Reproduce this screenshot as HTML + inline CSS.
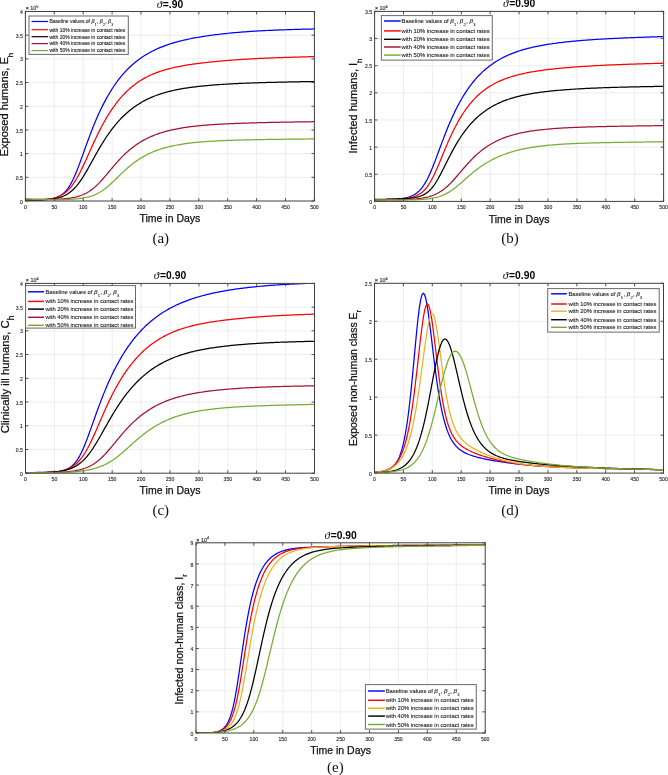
<!DOCTYPE html><html><head><meta charset="utf-8"><style>html,body{margin:0;padding:0;background:#fff;overflow:hidden}svg{display:block;will-change:transform}</style></head><body>
<svg width="668" height="775" viewBox="0 0 668 775">
<rect width="668" height="775" fill="#fff"/>
<g stroke="#e8e8e8" stroke-width="0.8"><line x1="54.30" y1="11.50" x2="54.30" y2="201.00"/><line x1="83.20" y1="11.50" x2="83.20" y2="201.00"/><line x1="112.10" y1="11.50" x2="112.10" y2="201.00"/><line x1="141.00" y1="11.50" x2="141.00" y2="201.00"/><line x1="169.90" y1="11.50" x2="169.90" y2="201.00"/><line x1="198.80" y1="11.50" x2="198.80" y2="201.00"/><line x1="227.70" y1="11.50" x2="227.70" y2="201.00"/><line x1="256.60" y1="11.50" x2="256.60" y2="201.00"/><line x1="285.50" y1="11.50" x2="285.50" y2="201.00"/><line x1="25.40" y1="177.31" x2="314.40" y2="177.31"/><line x1="25.40" y1="153.62" x2="314.40" y2="153.62"/><line x1="25.40" y1="129.94" x2="314.40" y2="129.94"/><line x1="25.40" y1="106.25" x2="314.40" y2="106.25"/><line x1="25.40" y1="82.56" x2="314.40" y2="82.56"/><line x1="25.40" y1="58.88" x2="314.40" y2="58.88"/><line x1="25.40" y1="35.19" x2="314.40" y2="35.19"/></g>
<clipPath id="ca"><rect x="25.40" y="11.50" width="289.00" height="189.50"/></clipPath>
<g clip-path="url(#ca)" fill="none" stroke-width="1.25" stroke-linejoin="round">
<path stroke="#0000ff" d="M25.40,199.51 L26.72,199.54 L28.04,199.56 L29.36,199.59 L30.68,199.61 L32.00,199.63 L33.32,199.64 L34.64,199.65 L35.96,199.66 L37.28,199.66 L38.60,199.65 L39.92,199.63 L41.24,199.60 L42.56,199.56 L43.87,199.51 L45.19,199.44 L46.51,199.35 L47.83,199.23 L49.15,199.09 L50.47,198.91 L51.79,198.69 L53.11,198.42 L54.43,198.09 L55.75,197.70 L57.07,197.23 L58.39,196.67 L59.71,196.01 L61.03,195.22 L62.35,194.29 L63.67,193.20 L64.99,191.94 L66.31,190.48 L67.63,188.81 L68.95,186.91 L70.27,184.78 L71.59,182.41 L72.91,179.81 L74.23,176.99 L75.55,173.96 L76.87,170.75 L78.19,167.38 L79.51,163.89 L80.82,160.30 L82.14,156.66 L83.46,152.98 L84.78,149.29 L86.10,145.62 L87.42,141.99 L88.74,138.41 L90.06,134.89 L91.38,131.44 L92.70,128.08 L94.02,124.80 L95.34,121.61 L96.66,118.51 L97.98,115.51 L99.30,112.60 L100.62,109.77 L101.94,107.04 L103.26,104.40 L104.58,101.85 L105.90,99.38 L107.22,97.00 L108.54,94.70 L109.86,92.48 L111.18,90.33 L112.50,88.26 L113.82,86.27 L115.14,84.35 L116.45,82.49 L117.77,80.70 L119.09,78.98 L120.41,77.31 L121.73,75.71 L123.05,74.17 L124.37,72.68 L125.69,71.24 L127.01,69.86 L128.33,68.53 L129.65,67.24 L130.97,66.00 L132.29,64.81 L133.61,63.66 L134.93,62.55 L136.25,61.49 L137.57,60.46 L138.89,59.46 L140.21,58.51 L141.53,57.59 L142.85,56.70 L144.17,55.84 L145.49,55.01 L146.81,54.22 L148.13,53.45 L149.45,52.71 L150.77,51.99 L152.08,51.30 L153.40,50.63 L154.72,49.99 L156.04,49.37 L157.36,48.77 L158.68,48.19 L160.00,47.63 L161.32,47.09 L162.64,46.57 L163.96,46.07 L165.28,45.58 L166.60,45.11 L167.92,44.65 L169.24,44.21 L170.56,43.78 L171.88,43.37 L173.20,42.97 L174.52,42.58 L175.84,42.20 L177.16,41.84 L178.48,41.49 L179.80,41.14 L181.12,40.81 L182.44,40.49 L183.76,40.18 L185.08,39.87 L186.40,39.58 L187.72,39.29 L189.03,39.01 L190.35,38.74 L191.67,38.48 L192.99,38.22 L194.31,37.97 L195.63,37.73 L196.95,37.49 L198.27,37.26 L199.59,37.04 L200.91,36.82 L202.23,36.61 L203.55,36.40 L204.87,36.19 L206.19,36.00 L207.51,35.80 L208.83,35.61 L210.15,35.43 L211.47,35.25 L212.79,35.07 L214.11,34.90 L215.43,34.73 L216.75,34.57 L218.07,34.41 L219.39,34.25 L220.71,34.10 L222.03,33.95 L223.35,33.80 L224.66,33.66 L225.98,33.52 L227.30,33.38 L228.62,33.25 L229.94,33.12 L231.26,32.99 L232.58,32.86 L233.90,32.74 L235.22,32.62 L236.54,32.50 L237.86,32.39 L239.18,32.28 L240.50,32.17 L241.82,32.07 L243.14,31.96 L244.46,31.86 L245.78,31.77 L247.10,31.67 L248.42,31.58 L249.74,31.49 L251.06,31.40 L252.38,31.31 L253.70,31.23 L255.02,31.15 L256.34,31.07 L257.66,30.99 L258.98,30.91 L260.29,30.84 L261.61,30.77 L262.93,30.70 L264.25,30.63 L265.57,30.57 L266.89,30.50 L268.21,30.44 L269.53,30.38 L270.85,30.32 L272.17,30.26 L273.49,30.20 L274.81,30.15 L276.13,30.09 L277.45,30.04 L278.77,29.99 L280.09,29.94 L281.41,29.89 L282.73,29.85 L284.05,29.80 L285.37,29.75 L286.69,29.71 L288.01,29.67 L289.33,29.62 L290.65,29.58 L291.97,29.54 L293.29,29.50 L294.61,29.46 L295.93,29.42 L297.24,29.39 L298.56,29.35 L299.88,29.31 L301.20,29.28 L302.52,29.24 L303.84,29.21 L305.16,29.18 L306.48,29.14 L307.80,29.11 L309.12,29.08 L310.44,29.05 L311.76,29.02 L313.08,28.99 L314.40,28.95"/>
<path stroke="#ff0000" d="M25.40,199.95 L26.72,199.97 L28.04,199.99 L29.36,200.01 L30.68,200.02 L32.00,200.03 L33.32,200.03 L34.64,200.02 L35.96,200.00 L37.28,199.98 L38.60,199.94 L39.92,199.89 L41.24,199.83 L42.56,199.76 L43.87,199.66 L45.19,199.55 L46.51,199.42 L47.83,199.25 L49.15,199.07 L50.47,198.84 L51.79,198.59 L53.11,198.29 L54.43,197.94 L55.75,197.55 L57.07,197.09 L58.39,196.58 L59.71,195.99 L61.03,195.32 L62.35,194.56 L63.67,193.71 L64.99,192.75 L66.31,191.68 L67.63,190.49 L68.95,189.17 L70.27,187.71 L71.59,186.10 L72.91,184.35 L74.23,182.45 L75.55,180.40 L76.87,178.20 L78.19,175.87 L79.51,173.41 L80.82,170.83 L82.14,168.15 L83.46,165.38 L84.78,162.54 L86.10,159.65 L87.42,156.73 L88.74,153.79 L90.06,150.84 L91.38,147.90 L92.70,144.99 L94.02,142.12 L95.34,139.29 L96.66,136.51 L97.98,133.79 L99.30,131.13 L100.62,128.54 L101.94,126.02 L103.26,123.57 L104.58,121.19 L105.90,118.88 L107.22,116.65 L108.54,114.49 L109.86,112.41 L111.18,110.39 L112.50,108.44 L113.82,106.56 L115.14,104.75 L116.45,103.00 L117.77,101.32 L119.09,99.69 L120.41,98.13 L121.73,96.63 L123.05,95.18 L124.37,93.78 L125.69,92.44 L127.01,91.15 L128.33,89.91 L129.65,88.72 L130.97,87.57 L132.29,86.47 L133.61,85.42 L134.93,84.40 L136.25,83.43 L137.57,82.50 L138.89,81.60 L140.21,80.74 L141.53,79.92 L142.85,79.13 L144.17,78.38 L145.49,77.65 L146.81,76.96 L148.13,76.30 L149.45,75.66 L150.77,75.05 L152.08,74.46 L153.40,73.90 L154.72,73.37 L156.04,72.85 L157.36,72.36 L158.68,71.88 L160.00,71.43 L161.32,70.99 L162.64,70.57 L163.96,70.17 L165.28,69.78 L166.60,69.41 L167.92,69.05 L169.24,68.70 L170.56,68.37 L171.88,68.05 L173.20,67.74 L174.52,67.44 L175.84,67.15 L177.16,66.87 L178.48,66.61 L179.80,66.35 L181.12,66.09 L182.44,65.85 L183.76,65.62 L185.08,65.39 L186.40,65.17 L187.72,64.95 L189.03,64.74 L190.35,64.54 L191.67,64.35 L192.99,64.15 L194.31,63.97 L195.63,63.79 L196.95,63.61 L198.27,63.44 L199.59,63.27 L200.91,63.11 L202.23,62.95 L203.55,62.80 L204.87,62.64 L206.19,62.50 L207.51,62.35 L208.83,62.21 L210.15,62.07 L211.47,61.93 L212.79,61.80 L214.11,61.67 L215.43,61.54 L216.75,61.42 L218.07,61.29 L219.39,61.17 L220.71,61.06 L222.03,60.94 L223.35,60.83 L224.66,60.72 L225.98,60.61 L227.30,60.50 L228.62,60.40 L229.94,60.29 L231.26,60.19 L232.58,60.09 L233.90,60.00 L235.22,59.90 L236.54,59.81 L237.86,59.72 L239.18,59.63 L240.50,59.54 L241.82,59.45 L243.14,59.37 L244.46,59.29 L245.78,59.21 L247.10,59.13 L248.42,59.05 L249.74,58.97 L251.06,58.90 L252.38,58.83 L253.70,58.76 L255.02,58.69 L256.34,58.62 L257.66,58.55 L258.98,58.49 L260.29,58.42 L261.61,58.36 L262.93,58.30 L264.25,58.24 L265.57,58.18 L266.89,58.12 L268.21,58.07 L269.53,58.01 L270.85,57.96 L272.17,57.90 L273.49,57.85 L274.81,57.80 L276.13,57.75 L277.45,57.70 L278.77,57.66 L280.09,57.61 L281.41,57.56 L282.73,57.52 L284.05,57.47 L285.37,57.43 L286.69,57.38 L288.01,57.34 L289.33,57.30 L290.65,57.26 L291.97,57.22 L293.29,57.18 L294.61,57.14 L295.93,57.10 L297.24,57.06 L298.56,57.02 L299.88,56.99 L301.20,56.95 L302.52,56.91 L303.84,56.88 L305.16,56.84 L306.48,56.81 L307.80,56.77 L309.12,56.74 L310.44,56.70 L311.76,56.67 L313.08,56.63 L314.40,56.60"/>
<path stroke="#000000" d="M25.40,199.71 L26.72,199.74 L28.04,199.77 L29.36,199.80 L30.68,199.82 L32.00,199.84 L33.32,199.86 L34.64,199.87 L35.96,199.88 L37.28,199.88 L38.60,199.87 L39.92,199.85 L41.24,199.83 L42.56,199.79 L43.87,199.74 L45.19,199.68 L46.51,199.61 L47.83,199.51 L49.15,199.40 L50.47,199.27 L51.79,199.11 L53.11,198.93 L54.43,198.72 L55.75,198.47 L57.07,198.18 L58.39,197.85 L59.71,197.48 L61.03,197.05 L62.35,196.56 L63.67,196.01 L64.99,195.39 L66.31,194.70 L67.63,193.92 L68.95,193.04 L70.27,192.08 L71.59,191.00 L72.91,189.82 L74.23,188.53 L75.55,187.11 L76.87,185.59 L78.19,183.94 L79.51,182.18 L80.82,180.30 L82.14,178.33 L83.46,176.26 L84.78,174.10 L86.10,171.87 L87.42,169.59 L88.74,167.25 L90.06,164.89 L91.38,162.50 L92.70,160.11 L94.02,157.72 L95.34,155.35 L96.66,153.00 L97.98,150.68 L99.30,148.40 L100.62,146.16 L101.94,143.98 L103.26,141.84 L104.58,139.76 L105.90,137.73 L107.22,135.76 L108.54,133.85 L109.86,132.00 L111.18,130.20 L112.50,128.46 L113.82,126.78 L115.14,125.15 L116.45,123.58 L117.77,122.06 L119.09,120.59 L120.41,119.17 L121.73,117.81 L123.05,116.49 L124.37,115.21 L125.69,113.98 L127.01,112.80 L128.33,111.66 L129.65,110.56 L130.97,109.50 L132.29,108.48 L133.61,107.49 L134.93,106.55 L136.25,105.64 L137.57,104.76 L138.89,103.91 L140.21,103.10 L141.53,102.32 L142.85,101.57 L144.17,100.85 L145.49,100.16 L146.81,99.49 L148.13,98.85 L149.45,98.24 L150.77,97.64 L152.08,97.08 L153.40,96.53 L154.72,96.01 L156.04,95.50 L157.36,95.02 L158.68,94.56 L160.00,94.11 L161.32,93.68 L162.64,93.27 L163.96,92.87 L165.28,92.49 L166.60,92.12 L167.92,91.77 L169.24,91.43 L170.56,91.11 L171.88,90.79 L173.20,90.49 L174.52,90.20 L175.84,89.92 L177.16,89.65 L178.48,89.39 L179.80,89.14 L181.12,88.90 L182.44,88.67 L183.76,88.45 L185.08,88.23 L186.40,88.03 L187.72,87.83 L189.03,87.63 L190.35,87.45 L191.67,87.27 L192.99,87.09 L194.31,86.93 L195.63,86.76 L196.95,86.61 L198.27,86.46 L199.59,86.31 L200.91,86.17 L202.23,86.03 L203.55,85.90 L204.87,85.77 L206.19,85.65 L207.51,85.53 L208.83,85.41 L210.15,85.30 L211.47,85.19 L212.79,85.08 L214.11,84.98 L215.43,84.88 L216.75,84.78 L218.07,84.68 L219.39,84.59 L220.71,84.50 L222.03,84.42 L223.35,84.33 L224.66,84.25 L225.98,84.17 L227.30,84.09 L228.62,84.02 L229.94,83.94 L231.26,83.87 L232.58,83.80 L233.90,83.73 L235.22,83.67 L236.54,83.60 L237.86,83.54 L239.18,83.48 L240.50,83.42 L241.82,83.36 L243.14,83.31 L244.46,83.25 L245.78,83.20 L247.10,83.15 L248.42,83.09 L249.74,83.04 L251.06,83.00 L252.38,82.95 L253.70,82.90 L255.02,82.86 L256.34,82.81 L257.66,82.77 L258.98,82.73 L260.29,82.69 L261.61,82.65 L262.93,82.61 L264.25,82.57 L265.57,82.53 L266.89,82.49 L268.21,82.46 L269.53,82.42 L270.85,82.39 L272.17,82.35 L273.49,82.32 L274.81,82.29 L276.13,82.26 L277.45,82.22 L278.77,82.19 L280.09,82.16 L281.41,82.13 L282.73,82.10 L284.05,82.08 L285.37,82.05 L286.69,82.02 L288.01,81.99 L289.33,81.97 L290.65,81.94 L291.97,81.91 L293.29,81.89 L294.61,81.86 L295.93,81.84 L297.24,81.81 L298.56,81.79 L299.88,81.76 L301.20,81.74 L302.52,81.72 L303.84,81.69 L305.16,81.67 L306.48,81.65 L307.80,81.63 L309.12,81.60 L310.44,81.58 L311.76,81.56 L313.08,81.54 L314.40,81.52"/>
<path stroke="#a2142f" d="M25.40,199.15 L26.72,199.18 L28.04,199.20 L29.36,199.23 L30.68,199.25 L32.00,199.27 L33.32,199.30 L34.64,199.32 L35.96,199.34 L37.28,199.35 L38.60,199.37 L39.92,199.38 L41.24,199.39 L42.56,199.40 L43.87,199.41 L45.19,199.41 L46.51,199.41 L47.83,199.40 L49.15,199.40 L50.47,199.38 L51.79,199.36 L53.11,199.34 L54.43,199.31 L55.75,199.27 L57.07,199.22 L58.39,199.16 L59.71,199.10 L61.03,199.02 L62.35,198.94 L63.67,198.84 L64.99,198.72 L66.31,198.59 L67.63,198.44 L68.95,198.28 L70.27,198.09 L71.59,197.88 L72.91,197.64 L74.23,197.37 L75.55,197.08 L76.87,196.74 L78.19,196.38 L79.51,195.97 L80.82,195.51 L82.14,195.01 L83.46,194.46 L84.78,193.86 L86.10,193.19 L87.42,192.46 L88.74,191.67 L90.06,190.81 L91.38,189.88 L92.70,188.87 L94.02,187.80 L95.34,186.65 L96.66,185.44 L97.98,184.16 L99.30,182.82 L100.62,181.42 L101.94,179.97 L103.26,178.48 L104.58,176.95 L105.90,175.40 L107.22,173.82 L108.54,172.24 L109.86,170.65 L111.18,169.06 L112.50,167.49 L113.82,165.93 L115.14,164.39 L116.45,162.89 L117.77,161.41 L119.09,159.96 L120.41,158.56 L121.73,157.19 L123.05,155.86 L124.37,154.57 L125.69,153.32 L127.01,152.11 L128.33,150.94 L129.65,149.82 L130.97,148.73 L132.29,147.69 L133.61,146.68 L134.93,145.71 L136.25,144.78 L137.57,143.89 L138.89,143.03 L140.21,142.20 L141.53,141.41 L142.85,140.64 L144.17,139.91 L145.49,139.21 L146.81,138.54 L148.13,137.89 L149.45,137.27 L150.77,136.68 L152.08,136.11 L153.40,135.56 L154.72,135.04 L156.04,134.53 L157.36,134.05 L158.68,133.59 L160.00,133.15 L161.32,132.72 L162.64,132.31 L163.96,131.92 L165.28,131.55 L166.60,131.19 L167.92,130.85 L169.24,130.52 L170.56,130.20 L171.88,129.90 L173.20,129.61 L174.52,129.33 L175.84,129.06 L177.16,128.80 L178.48,128.56 L179.80,128.32 L181.12,128.09 L182.44,127.88 L183.76,127.67 L185.08,127.47 L186.40,127.27 L187.72,127.09 L189.03,126.91 L190.35,126.74 L191.67,126.58 L192.99,126.42 L194.31,126.27 L195.63,126.12 L196.95,125.98 L198.27,125.85 L199.59,125.72 L200.91,125.59 L202.23,125.47 L203.55,125.36 L204.87,125.24 L206.19,125.14 L207.51,125.03 L208.83,124.93 L210.15,124.83 L211.47,124.74 L212.79,124.65 L214.11,124.56 L215.43,124.48 L216.75,124.40 L218.07,124.32 L219.39,124.24 L220.71,124.16 L222.03,124.09 L223.35,124.02 L224.66,123.95 L225.98,123.89 L227.30,123.82 L228.62,123.76 L229.94,123.70 L231.26,123.64 L232.58,123.59 L233.90,123.53 L235.22,123.48 L236.54,123.42 L237.86,123.37 L239.18,123.32 L240.50,123.27 L241.82,123.23 L243.14,123.18 L244.46,123.13 L245.78,123.09 L247.10,123.05 L248.42,123.01 L249.74,122.96 L251.06,122.92 L252.38,122.89 L253.70,122.85 L255.02,122.81 L256.34,122.77 L257.66,122.74 L258.98,122.70 L260.29,122.67 L261.61,122.64 L262.93,122.61 L264.25,122.57 L265.57,122.54 L266.89,122.51 L268.21,122.48 L269.53,122.46 L270.85,122.43 L272.17,122.40 L273.49,122.37 L274.81,122.35 L276.13,122.32 L277.45,122.29 L278.77,122.27 L280.09,122.24 L281.41,122.22 L282.73,122.19 L284.05,122.17 L285.37,122.15 L286.69,122.12 L288.01,122.10 L289.33,122.08 L290.65,122.06 L291.97,122.04 L293.29,122.02 L294.61,121.99 L295.93,121.97 L297.24,121.95 L298.56,121.93 L299.88,121.91 L301.20,121.89 L302.52,121.87 L303.84,121.85 L305.16,121.83 L306.48,121.82 L307.80,121.80 L309.12,121.78 L310.44,121.76 L311.76,121.74 L313.08,121.72 L314.40,121.71"/>
<path stroke="#77ac30" d="M25.40,199.08 L26.72,199.11 L28.04,199.14 L29.36,199.18 L30.68,199.21 L32.00,199.24 L33.32,199.27 L34.64,199.31 L35.96,199.34 L37.28,199.37 L38.60,199.39 L39.92,199.42 L41.24,199.45 L42.56,199.47 L43.87,199.50 L45.19,199.52 L46.51,199.54 L47.83,199.56 L49.15,199.57 L50.47,199.59 L51.79,199.60 L53.11,199.61 L54.43,199.62 L55.75,199.62 L57.07,199.62 L58.39,199.61 L59.71,199.60 L61.03,199.59 L62.35,199.57 L63.67,199.55 L64.99,199.52 L66.31,199.48 L67.63,199.44 L68.95,199.38 L70.27,199.32 L71.59,199.25 L72.91,199.17 L74.23,199.07 L75.55,198.97 L76.87,198.84 L78.19,198.71 L79.51,198.55 L80.82,198.38 L82.14,198.18 L83.46,197.96 L84.78,197.71 L86.10,197.44 L87.42,197.14 L88.74,196.80 L90.06,196.42 L91.38,196.01 L92.70,195.55 L94.02,195.05 L95.34,194.50 L96.66,193.90 L97.98,193.24 L99.30,192.52 L100.62,191.75 L101.94,190.92 L103.26,190.03 L104.58,189.08 L105.90,188.08 L107.22,187.02 L108.54,185.91 L109.86,184.76 L111.18,183.56 L112.50,182.33 L113.82,181.08 L115.14,179.80 L116.45,178.51 L117.77,177.22 L119.09,175.92 L120.41,174.64 L121.73,173.36 L123.05,172.10 L124.37,170.87 L125.69,169.66 L127.01,168.47 L128.33,167.32 L129.65,166.20 L130.97,165.11 L132.29,164.06 L133.61,163.05 L134.93,162.06 L136.25,161.12 L137.57,160.20 L138.89,159.33 L140.21,158.48 L141.53,157.67 L142.85,156.90 L144.17,156.15 L145.49,155.43 L146.81,154.74 L148.13,154.09 L149.45,153.46 L150.77,152.85 L152.08,152.27 L153.40,151.72 L154.72,151.19 L156.04,150.68 L157.36,150.19 L158.68,149.73 L160.00,149.28 L161.32,148.86 L162.64,148.45 L163.96,148.06 L165.28,147.69 L166.60,147.33 L167.92,146.99 L169.24,146.67 L170.56,146.35 L171.88,146.06 L173.20,145.77 L174.52,145.50 L175.84,145.24 L177.16,144.99 L178.48,144.76 L179.80,144.53 L181.12,144.31 L182.44,144.10 L183.76,143.90 L185.08,143.72 L186.40,143.53 L187.72,143.36 L189.03,143.19 L190.35,143.03 L191.67,142.88 L192.99,142.74 L194.31,142.60 L195.63,142.46 L196.95,142.34 L198.27,142.21 L199.59,142.10 L200.91,141.98 L202.23,141.88 L203.55,141.77 L204.87,141.67 L206.19,141.58 L207.51,141.49 L208.83,141.40 L210.15,141.31 L211.47,141.23 L212.79,141.15 L214.11,141.08 L215.43,141.01 L216.75,140.94 L218.07,140.87 L219.39,140.81 L220.71,140.74 L222.03,140.68 L223.35,140.63 L224.66,140.57 L225.98,140.52 L227.30,140.46 L228.62,140.41 L229.94,140.37 L231.26,140.32 L232.58,140.27 L233.90,140.23 L235.22,140.19 L236.54,140.15 L237.86,140.11 L239.18,140.07 L240.50,140.03 L241.82,140.00 L243.14,139.96 L244.46,139.93 L245.78,139.90 L247.10,139.86 L248.42,139.83 L249.74,139.80 L251.06,139.77 L252.38,139.75 L253.70,139.72 L255.02,139.69 L256.34,139.66 L257.66,139.64 L258.98,139.61 L260.29,139.59 L261.61,139.57 L262.93,139.54 L264.25,139.52 L265.57,139.50 L266.89,139.48 L268.21,139.46 L269.53,139.44 L270.85,139.42 L272.17,139.40 L273.49,139.38 L274.81,139.36 L276.13,139.34 L277.45,139.32 L278.77,139.31 L280.09,139.29 L281.41,139.27 L282.73,139.26 L284.05,139.24 L285.37,139.22 L286.69,139.21 L288.01,139.19 L289.33,139.18 L290.65,139.16 L291.97,139.15 L293.29,139.13 L294.61,139.12 L295.93,139.10 L297.24,139.09 L298.56,139.08 L299.88,139.06 L301.20,139.05 L302.52,139.03 L303.84,139.02 L305.16,139.01 L306.48,139.00 L307.80,138.98 L309.12,138.97 L310.44,138.96 L311.76,138.94 L313.08,138.93 L314.40,138.92"/>
</g>
<path d="M25.40,201.00V198.10M25.40,11.50V14.40M54.30,201.00V198.10M54.30,11.50V14.40M83.20,201.00V198.10M83.20,11.50V14.40M112.10,201.00V198.10M112.10,11.50V14.40M141.00,201.00V198.10M141.00,11.50V14.40M169.90,201.00V198.10M169.90,11.50V14.40M198.80,201.00V198.10M198.80,11.50V14.40M227.70,201.00V198.10M227.70,11.50V14.40M256.60,201.00V198.10M256.60,11.50V14.40M285.50,201.00V198.10M285.50,11.50V14.40M314.40,201.00V198.10M314.40,11.50V14.40M25.40,201.00H28.30M314.40,201.00H311.50M25.40,177.31H28.30M314.40,177.31H311.50M25.40,153.62H28.30M314.40,153.62H311.50M25.40,129.94H28.30M314.40,129.94H311.50M25.40,106.25H28.30M314.40,106.25H311.50M25.40,82.56H28.30M314.40,82.56H311.50M25.40,58.88H28.30M314.40,58.88H311.50M25.40,35.19H28.30M314.40,35.19H311.50M25.40,11.50H28.30M314.40,11.50H311.50" stroke="#404040" stroke-width="0.9" fill="none"/>
<rect x="25.40" y="11.50" width="289.00" height="189.50" fill="none" stroke="#404040" stroke-width="1"/>
<g font-family='"Liberation Sans", sans-serif' font-size="5.1" fill="#262626" stroke="#262626" stroke-width="0.12"><text x="25.40" y="209.00" text-anchor="middle">0</text><text x="54.30" y="209.00" text-anchor="middle">50</text><text x="83.20" y="209.00" text-anchor="middle">100</text><text x="112.10" y="209.00" text-anchor="middle">150</text><text x="141.00" y="209.00" text-anchor="middle">200</text><text x="169.90" y="209.00" text-anchor="middle">250</text><text x="198.80" y="209.00" text-anchor="middle">300</text><text x="227.70" y="209.00" text-anchor="middle">350</text><text x="256.60" y="209.00" text-anchor="middle">400</text><text x="285.50" y="209.00" text-anchor="middle">450</text><text x="314.40" y="209.00" text-anchor="middle">500</text><text x="22.80" y="203.60" text-anchor="end">0</text><text x="22.80" y="179.91" text-anchor="end">0.5</text><text x="22.80" y="156.22" text-anchor="end">1</text><text x="22.80" y="132.54" text-anchor="end">1.5</text><text x="22.80" y="108.85" text-anchor="end">2</text><text x="22.80" y="85.16" text-anchor="end">2.5</text><text x="22.80" y="61.48" text-anchor="end">3</text><text x="22.80" y="37.79" text-anchor="end">3.5</text><text x="22.80" y="14.10" text-anchor="end">4</text></g>
<text x="25.70" y="10.20" font-family='"Liberation Sans", sans-serif' font-size="5.4" fill="#262626" stroke="#262626" stroke-width="0.12">&#215; 10<tspan font-size="3.8" dy="-2.2">5</tspan></text>
<text x="169.90" y="7.50" text-anchor="middle" font-family='"Liberation Sans", sans-serif' font-size="10.3" font-weight="bold" fill="#000"><tspan font-family='"Liberation Serif", serif' font-style="italic" font-weight="normal" font-size="11">&#977;</tspan><tspan dx="0.8">=.90</tspan></text>
<text x="169.90" y="222.10" text-anchor="middle" font-family='"Liberation Sans", sans-serif' font-size="10.5" fill="#111" stroke="#111" stroke-width="0.25">Time in Days</text>
<text transform="translate(8.20,104.60) rotate(-90)" text-anchor="middle" font-family='"Liberation Sans", sans-serif' font-size="11.1" fill="#111" stroke="#111" stroke-width="0.25">Exposed humans, E<tspan font-size="7.99" dy="4.66">h</tspan></text>
<rect x="29.00" y="16.00" width="99.30" height="38.40" fill="#fff" stroke="#6a6a6a" stroke-width="1"/>
<line x1="31.60" y1="21.50" x2="48.10" y2="21.50" stroke="#0000ff" stroke-width="1.2"/>
<text x="49.40" y="23.30" font-family='"Liberation Sans", sans-serif' font-size="5.0" fill="#262626" stroke="#262626" stroke-width="0.12">Baseline values of <tspan font-family='"Liberation Serif", serif' font-style="italic" font-size="6.00">&#946;</tspan><tspan font-size="3.50" dy="2.50" dx="0.3">1</tspan><tspan dy="-2.50" dx="0.3">, </tspan><tspan font-family='"Liberation Serif", serif' font-style="italic" font-size="6.00">&#946;</tspan><tspan font-size="3.50" dy="2.50" dx="0.3">2</tspan><tspan dy="-2.50" dx="0.3">, </tspan><tspan font-family='"Liberation Serif", serif' font-style="italic" font-size="6.00">&#946;</tspan><tspan font-size="3.50" dy="2.50" dx="0.3">3</tspan></text>
<line x1="31.60" y1="29.70" x2="48.10" y2="29.70" stroke="#ff0000" stroke-width="1.2"/>
<text x="49.40" y="31.50" font-family='"Liberation Sans", sans-serif' font-size="5.0" fill="#262626" stroke="#262626" stroke-width="0.12">with 10% increase in contact rates</text>
<line x1="31.60" y1="36.70" x2="48.10" y2="36.70" stroke="#000000" stroke-width="1.2"/>
<text x="49.40" y="38.50" font-family='"Liberation Sans", sans-serif' font-size="5.0" fill="#262626" stroke="#262626" stroke-width="0.12">with 20% increase in contact rates</text>
<line x1="31.60" y1="43.60" x2="48.10" y2="43.60" stroke="#a2142f" stroke-width="1.2"/>
<text x="49.40" y="45.40" font-family='"Liberation Sans", sans-serif' font-size="5.0" fill="#262626" stroke="#262626" stroke-width="0.12">with 40% increase in contact rates</text>
<line x1="31.60" y1="50.60" x2="48.10" y2="50.60" stroke="#77ac30" stroke-width="1.2"/>
<text x="49.40" y="52.40" font-family='"Liberation Sans", sans-serif' font-size="5.0" fill="#262626" stroke="#262626" stroke-width="0.12">with 50% increase in contact rates</text>
<text x="160.80" y="243.00" text-anchor="middle" font-family='"Liberation Serif", serif' font-size="15" fill="#111">(a)</text>
<g stroke="#e8e8e8" stroke-width="0.8"><line x1="403.50" y1="11.40" x2="403.50" y2="201.40"/><line x1="432.40" y1="11.40" x2="432.40" y2="201.40"/><line x1="461.30" y1="11.40" x2="461.30" y2="201.40"/><line x1="490.20" y1="11.40" x2="490.20" y2="201.40"/><line x1="519.10" y1="11.40" x2="519.10" y2="201.40"/><line x1="548.00" y1="11.40" x2="548.00" y2="201.40"/><line x1="576.90" y1="11.40" x2="576.90" y2="201.40"/><line x1="605.80" y1="11.40" x2="605.80" y2="201.40"/><line x1="634.70" y1="11.40" x2="634.70" y2="201.40"/><line x1="374.60" y1="174.26" x2="663.60" y2="174.26"/><line x1="374.60" y1="147.11" x2="663.60" y2="147.11"/><line x1="374.60" y1="119.97" x2="663.60" y2="119.97"/><line x1="374.60" y1="92.83" x2="663.60" y2="92.83"/><line x1="374.60" y1="65.69" x2="663.60" y2="65.69"/><line x1="374.60" y1="38.54" x2="663.60" y2="38.54"/></g>
<clipPath id="cb"><rect x="374.60" y="11.40" width="289.00" height="190.00"/></clipPath>
<g clip-path="url(#cb)" fill="none" stroke-width="1.25" stroke-linejoin="round">
<path stroke="#0000ff" d="M374.60,199.67 L375.92,199.66 L377.24,199.64 L378.56,199.62 L379.88,199.60 L381.20,199.58 L382.52,199.56 L383.84,199.53 L385.16,199.51 L386.48,199.47 L387.80,199.44 L389.12,199.40 L390.44,199.35 L391.76,199.30 L393.07,199.24 L394.39,199.17 L395.71,199.09 L397.03,198.99 L398.35,198.88 L399.67,198.76 L400.99,198.61 L402.31,198.43 L403.63,198.23 L404.95,197.99 L406.27,197.71 L407.59,197.39 L408.91,197.00 L410.23,196.56 L411.55,196.04 L412.87,195.43 L414.19,194.72 L415.51,193.90 L416.83,192.95 L418.15,191.85 L419.47,190.60 L420.79,189.17 L422.11,187.54 L423.43,185.72 L424.75,183.68 L426.07,181.43 L427.39,178.96 L428.71,176.29 L430.02,173.42 L431.34,170.37 L432.66,167.16 L433.98,163.83 L435.30,160.39 L436.62,156.88 L437.94,153.33 L439.26,149.76 L440.58,146.19 L441.90,142.65 L443.22,139.15 L444.54,135.71 L445.86,132.34 L447.18,129.04 L448.50,125.83 L449.82,122.71 L451.14,119.67 L452.46,116.73 L453.78,113.89 L455.10,111.13 L456.42,108.47 L457.74,105.91 L459.06,103.43 L460.38,101.04 L461.70,98.74 L463.02,96.52 L464.34,94.38 L465.65,92.32 L466.97,90.34 L468.29,88.43 L469.61,86.60 L470.93,84.83 L472.25,83.13 L473.57,81.49 L474.89,79.92 L476.21,78.41 L477.53,76.95 L478.85,75.55 L480.17,74.20 L481.49,72.91 L482.81,71.66 L484.13,70.46 L485.45,69.31 L486.77,68.20 L488.09,67.14 L489.41,66.11 L490.73,65.13 L492.05,64.18 L493.37,63.27 L494.69,62.39 L496.01,61.55 L497.33,60.74 L498.65,59.96 L499.97,59.21 L501.28,58.48 L502.60,57.79 L503.92,57.12 L505.24,56.47 L506.56,55.85 L507.88,55.25 L509.20,54.68 L510.52,54.12 L511.84,53.59 L513.16,53.07 L514.48,52.58 L515.80,52.10 L517.12,51.63 L518.44,51.19 L519.76,50.76 L521.08,50.34 L522.40,49.94 L523.72,49.56 L525.04,49.18 L526.36,48.82 L527.68,48.47 L529.00,48.14 L530.32,47.81 L531.64,47.50 L532.96,47.19 L534.28,46.90 L535.60,46.61 L536.92,46.34 L538.23,46.07 L539.55,45.81 L540.87,45.56 L542.19,45.32 L543.51,45.08 L544.83,44.85 L546.15,44.63 L547.47,44.42 L548.79,44.21 L550.11,44.00 L551.43,43.81 L552.75,43.62 L554.07,43.43 L555.39,43.25 L556.71,43.07 L558.03,42.90 L559.35,42.73 L560.67,42.57 L561.99,42.41 L563.31,42.26 L564.63,42.11 L565.95,41.96 L567.27,41.82 L568.59,41.68 L569.91,41.54 L571.23,41.41 L572.55,41.28 L573.86,41.16 L575.18,41.03 L576.50,40.91 L577.82,40.80 L579.14,40.68 L580.46,40.57 L581.78,40.46 L583.10,40.36 L584.42,40.25 L585.74,40.15 L587.06,40.05 L588.38,39.95 L589.70,39.86 L591.02,39.77 L592.34,39.68 L593.66,39.59 L594.98,39.50 L596.30,39.41 L597.62,39.33 L598.94,39.25 L600.26,39.17 L601.58,39.09 L602.90,39.02 L604.22,38.94 L605.54,38.87 L606.86,38.79 L608.18,38.72 L609.49,38.65 L610.81,38.59 L612.13,38.52 L613.45,38.46 L614.77,38.39 L616.09,38.33 L617.41,38.27 L618.73,38.21 L620.05,38.15 L621.37,38.09 L622.69,38.03 L624.01,37.97 L625.33,37.92 L626.65,37.86 L627.97,37.81 L629.29,37.75 L630.61,37.70 L631.93,37.65 L633.25,37.60 L634.57,37.55 L635.89,37.50 L637.21,37.45 L638.53,37.40 L639.85,37.35 L641.17,37.31 L642.49,37.26 L643.81,37.22 L645.13,37.17 L646.44,37.12 L647.76,37.08 L649.08,37.04 L650.40,36.99 L651.72,36.95 L653.04,36.91 L654.36,36.86 L655.68,36.82 L657.00,36.78 L658.32,36.74 L659.64,36.70 L660.96,36.66 L662.28,36.62 L663.60,36.58"/>
<path stroke="#ff0000" d="M374.60,199.65 L375.92,199.63 L377.24,199.62 L378.56,199.60 L379.88,199.59 L381.20,199.57 L382.52,199.55 L383.84,199.53 L385.16,199.51 L386.48,199.49 L387.80,199.46 L389.12,199.43 L390.44,199.40 L391.76,199.36 L393.07,199.32 L394.39,199.28 L395.71,199.23 L397.03,199.17 L398.35,199.10 L399.67,199.02 L400.99,198.93 L402.31,198.83 L403.63,198.70 L404.95,198.56 L406.27,198.40 L407.59,198.21 L408.91,197.98 L410.23,197.72 L411.55,197.41 L412.87,197.06 L414.19,196.64 L415.51,196.15 L416.83,195.58 L418.15,194.92 L419.47,194.15 L420.79,193.26 L422.11,192.24 L423.43,191.07 L424.75,189.73 L426.07,188.22 L427.39,186.52 L428.71,184.62 L430.02,182.53 L431.34,180.23 L432.66,177.75 L433.98,175.10 L435.30,172.29 L436.62,169.34 L437.94,166.29 L439.26,163.16 L440.58,159.98 L441.90,156.77 L443.22,153.56 L444.54,150.37 L445.86,147.22 L447.18,144.12 L448.50,141.09 L449.82,138.14 L451.14,135.27 L452.46,132.48 L453.78,129.78 L455.10,127.18 L456.42,124.67 L457.74,122.25 L459.06,119.93 L460.38,117.69 L461.70,115.55 L463.02,113.48 L464.34,111.51 L465.65,109.61 L466.97,107.79 L468.29,106.05 L469.61,104.38 L470.93,102.79 L472.25,101.26 L473.57,99.80 L474.89,98.40 L476.21,97.06 L477.53,95.78 L478.85,94.56 L480.17,93.39 L481.49,92.27 L482.81,91.21 L484.13,90.19 L485.45,89.21 L486.77,88.28 L488.09,87.39 L489.41,86.54 L490.73,85.72 L492.05,84.95 L493.37,84.20 L494.69,83.49 L496.01,82.81 L497.33,82.16 L498.65,81.53 L499.97,80.94 L501.28,80.37 L502.60,79.82 L503.92,79.30 L505.24,78.79 L506.56,78.31 L507.88,77.85 L509.20,77.41 L510.52,76.98 L511.84,76.57 L513.16,76.18 L514.48,75.80 L515.80,75.44 L517.12,75.09 L518.44,74.75 L519.76,74.43 L521.08,74.12 L522.40,73.81 L523.72,73.52 L525.04,73.24 L526.36,72.97 L527.68,72.71 L529.00,72.46 L530.32,72.21 L531.64,71.98 L532.96,71.75 L534.28,71.53 L535.60,71.31 L536.92,71.11 L538.23,70.90 L539.55,70.71 L540.87,70.52 L542.19,70.33 L543.51,70.15 L544.83,69.98 L546.15,69.81 L547.47,69.65 L548.79,69.48 L550.11,69.33 L551.43,69.18 L552.75,69.03 L554.07,68.88 L555.39,68.74 L556.71,68.61 L558.03,68.47 L559.35,68.34 L560.67,68.21 L561.99,68.09 L563.31,67.97 L564.63,67.85 L565.95,67.73 L567.27,67.62 L568.59,67.51 L569.91,67.40 L571.23,67.29 L572.55,67.19 L573.86,67.08 L575.18,66.98 L576.50,66.89 L577.82,66.79 L579.14,66.70 L580.46,66.60 L581.78,66.52 L583.10,66.43 L584.42,66.34 L585.74,66.26 L587.06,66.17 L588.38,66.09 L589.70,66.01 L591.02,65.94 L592.34,65.86 L593.66,65.78 L594.98,65.71 L596.30,65.64 L597.62,65.57 L598.94,65.50 L600.26,65.43 L601.58,65.37 L602.90,65.30 L604.22,65.24 L605.54,65.18 L606.86,65.11 L608.18,65.05 L609.49,64.99 L610.81,64.94 L612.13,64.88 L613.45,64.82 L614.77,64.77 L616.09,64.72 L617.41,64.66 L618.73,64.61 L620.05,64.56 L621.37,64.51 L622.69,64.46 L624.01,64.41 L625.33,64.36 L626.65,64.32 L627.97,64.27 L629.29,64.23 L630.61,64.18 L631.93,64.14 L633.25,64.09 L634.57,64.05 L635.89,64.01 L637.21,63.97 L638.53,63.92 L639.85,63.88 L641.17,63.84 L642.49,63.80 L643.81,63.76 L645.13,63.72 L646.44,63.69 L647.76,63.65 L649.08,63.61 L650.40,63.57 L651.72,63.53 L653.04,63.50 L654.36,63.46 L655.68,63.42 L657.00,63.39 L658.32,63.35 L659.64,63.31 L660.96,63.28 L662.28,63.24 L663.60,63.21"/>
<path stroke="#000000" d="M374.60,199.46 L375.92,199.43 L377.24,199.41 L378.56,199.39 L379.88,199.37 L381.20,199.34 L382.52,199.32 L383.84,199.30 L385.16,199.27 L386.48,199.25 L387.80,199.22 L389.12,199.20 L390.44,199.17 L391.76,199.14 L393.07,199.11 L394.39,199.07 L395.71,199.04 L397.03,199.00 L398.35,198.96 L399.67,198.91 L400.99,198.86 L402.31,198.81 L403.63,198.74 L404.95,198.67 L406.27,198.59 L407.59,198.49 L408.91,198.38 L410.23,198.25 L411.55,198.10 L412.87,197.93 L414.19,197.73 L415.51,197.49 L416.83,197.21 L418.15,196.88 L419.47,196.50 L420.79,196.04 L422.11,195.51 L423.43,194.89 L424.75,194.17 L426.07,193.34 L427.39,192.38 L428.71,191.27 L430.02,190.01 L431.34,188.59 L432.66,187.01 L433.98,185.25 L435.30,183.33 L436.62,181.25 L437.94,179.02 L439.26,176.66 L440.58,174.20 L441.90,171.66 L443.22,169.06 L444.54,166.42 L445.86,163.76 L447.18,161.12 L448.50,158.49 L449.82,155.91 L451.14,153.37 L452.46,150.89 L453.78,148.47 L455.10,146.13 L456.42,143.85 L457.74,141.66 L459.06,139.53 L460.38,137.48 L461.70,135.51 L463.02,133.61 L464.34,131.78 L465.65,130.03 L466.97,128.34 L468.29,126.72 L469.61,125.16 L470.93,123.67 L472.25,122.23 L473.57,120.86 L474.89,119.53 L476.21,118.27 L477.53,117.05 L478.85,115.88 L480.17,114.77 L481.49,113.69 L482.81,112.66 L484.13,111.68 L485.45,110.73 L486.77,109.82 L488.09,108.95 L489.41,108.12 L490.73,107.32 L492.05,106.55 L493.37,105.82 L494.69,105.11 L496.01,104.44 L497.33,103.79 L498.65,103.17 L499.97,102.57 L501.28,102.00 L502.60,101.45 L503.92,100.93 L505.24,100.42 L506.56,99.94 L507.88,99.47 L509.20,99.03 L510.52,98.60 L511.84,98.19 L513.16,97.79 L514.48,97.42 L515.80,97.05 L517.12,96.70 L518.44,96.37 L519.76,96.04 L521.08,95.73 L522.40,95.43 L523.72,95.15 L525.04,94.87 L526.36,94.60 L527.68,94.35 L529.00,94.10 L530.32,93.86 L531.64,93.63 L532.96,93.41 L534.28,93.20 L535.60,92.99 L536.92,92.79 L538.23,92.60 L539.55,92.41 L540.87,92.23 L542.19,92.06 L543.51,91.89 L544.83,91.73 L546.15,91.57 L547.47,91.42 L548.79,91.28 L550.11,91.13 L551.43,90.99 L552.75,90.86 L554.07,90.73 L555.39,90.60 L556.71,90.48 L558.03,90.36 L559.35,90.25 L560.67,90.13 L561.99,90.02 L563.31,89.92 L564.63,89.81 L565.95,89.71 L567.27,89.62 L568.59,89.52 L569.91,89.43 L571.23,89.34 L572.55,89.25 L573.86,89.16 L575.18,89.08 L576.50,89.00 L577.82,88.92 L579.14,88.84 L580.46,88.77 L581.78,88.70 L583.10,88.63 L584.42,88.56 L585.74,88.49 L587.06,88.42 L588.38,88.36 L589.70,88.30 L591.02,88.24 L592.34,88.18 L593.66,88.12 L594.98,88.06 L596.30,88.01 L597.62,87.95 L598.94,87.90 L600.26,87.85 L601.58,87.80 L602.90,87.75 L604.22,87.70 L605.54,87.66 L606.86,87.61 L608.18,87.57 L609.49,87.53 L610.81,87.48 L612.13,87.44 L613.45,87.40 L614.77,87.36 L616.09,87.33 L617.41,87.29 L618.73,87.25 L620.05,87.22 L621.37,87.18 L622.69,87.15 L624.01,87.11 L625.33,87.08 L626.65,87.05 L627.97,87.02 L629.29,86.99 L630.61,86.96 L631.93,86.93 L633.25,86.90 L634.57,86.87 L635.89,86.84 L637.21,86.81 L638.53,86.79 L639.85,86.76 L641.17,86.74 L642.49,86.71 L643.81,86.68 L645.13,86.66 L646.44,86.63 L647.76,86.61 L649.08,86.59 L650.40,86.56 L651.72,86.54 L653.04,86.52 L654.36,86.49 L655.68,86.47 L657.00,86.45 L658.32,86.43 L659.64,86.41 L660.96,86.38 L662.28,86.36 L663.60,86.34"/>
<path stroke="#a2142f" d="M374.60,199.83 L375.92,199.83 L377.24,199.84 L378.56,199.85 L379.88,199.86 L381.20,199.86 L382.52,199.87 L383.84,199.87 L385.16,199.88 L386.48,199.88 L387.80,199.88 L389.12,199.88 L390.44,199.88 L391.76,199.87 L393.07,199.86 L394.39,199.85 L395.71,199.84 L397.03,199.83 L398.35,199.81 L399.67,199.78 L400.99,199.76 L402.31,199.73 L403.63,199.69 L404.95,199.65 L406.27,199.60 L407.59,199.54 L408.91,199.48 L410.23,199.41 L411.55,199.33 L412.87,199.24 L414.19,199.13 L415.51,199.02 L416.83,198.89 L418.15,198.74 L419.47,198.58 L420.79,198.39 L422.11,198.19 L423.43,197.96 L424.75,197.71 L426.07,197.42 L427.39,197.11 L428.71,196.76 L430.02,196.37 L431.34,195.95 L432.66,195.48 L433.98,194.96 L435.30,194.39 L436.62,193.76 L437.94,193.08 L439.26,192.33 L440.58,191.52 L441.90,190.64 L443.22,189.69 L444.54,188.68 L445.86,187.59 L447.18,186.44 L448.50,185.22 L449.82,183.94 L451.14,182.59 L452.46,181.20 L453.78,179.76 L455.10,178.28 L456.42,176.77 L457.74,175.23 L459.06,173.68 L460.38,172.13 L461.70,170.57 L463.02,169.02 L464.34,167.49 L465.65,165.98 L466.97,164.49 L468.29,163.03 L469.61,161.61 L470.93,160.22 L472.25,158.87 L473.57,157.55 L474.89,156.29 L476.21,155.06 L477.53,153.87 L478.85,152.73 L480.17,151.63 L481.49,150.57 L482.81,149.55 L484.13,148.57 L485.45,147.62 L486.77,146.72 L488.09,145.85 L489.41,145.02 L490.73,144.22 L492.05,143.46 L493.37,142.73 L494.69,142.03 L496.01,141.36 L497.33,140.71 L498.65,140.10 L499.97,139.51 L501.28,138.95 L502.60,138.41 L503.92,137.89 L505.24,137.40 L506.56,136.93 L507.88,136.47 L509.20,136.04 L510.52,135.63 L511.84,135.23 L513.16,134.85 L514.48,134.49 L515.80,134.15 L517.12,133.81 L518.44,133.50 L519.76,133.20 L521.08,132.91 L522.40,132.63 L523.72,132.36 L525.04,132.11 L526.36,131.87 L527.68,131.63 L529.00,131.41 L530.32,131.20 L531.64,130.99 L532.96,130.80 L534.28,130.61 L535.60,130.43 L536.92,130.26 L538.23,130.10 L539.55,129.94 L540.87,129.79 L542.19,129.65 L543.51,129.51 L544.83,129.38 L546.15,129.25 L547.47,129.13 L548.79,129.01 L550.11,128.90 L551.43,128.79 L552.75,128.68 L554.07,128.59 L555.39,128.49 L556.71,128.40 L558.03,128.31 L559.35,128.22 L560.67,128.14 L561.99,128.06 L563.31,127.99 L564.63,127.91 L565.95,127.84 L567.27,127.77 L568.59,127.71 L569.91,127.65 L571.23,127.58 L572.55,127.53 L573.86,127.47 L575.18,127.41 L576.50,127.36 L577.82,127.31 L579.14,127.26 L580.46,127.21 L581.78,127.16 L583.10,127.12 L584.42,127.07 L585.74,127.03 L587.06,126.99 L588.38,126.95 L589.70,126.91 L591.02,126.87 L592.34,126.83 L593.66,126.80 L594.98,126.76 L596.30,126.73 L597.62,126.69 L598.94,126.66 L600.26,126.63 L601.58,126.60 L602.90,126.57 L604.22,126.54 L605.54,126.51 L606.86,126.48 L608.18,126.45 L609.49,126.42 L610.81,126.40 L612.13,126.37 L613.45,126.35 L614.77,126.32 L616.09,126.30 L617.41,126.27 L618.73,126.25 L620.05,126.23 L621.37,126.20 L622.69,126.18 L624.01,126.16 L625.33,126.14 L626.65,126.12 L627.97,126.10 L629.29,126.08 L630.61,126.06 L631.93,126.04 L633.25,126.02 L634.57,126.00 L635.89,125.98 L637.21,125.96 L638.53,125.94 L639.85,125.92 L641.17,125.91 L642.49,125.89 L643.81,125.87 L645.13,125.85 L646.44,125.83 L647.76,125.82 L649.08,125.80 L650.40,125.78 L651.72,125.77 L653.04,125.75 L654.36,125.73 L655.68,125.72 L657.00,125.70 L658.32,125.69 L659.64,125.67 L660.96,125.65 L662.28,125.64 L663.60,125.62"/>
<path stroke="#77ac30" d="M374.60,199.82 L375.92,199.84 L377.24,199.85 L378.56,199.86 L379.88,199.88 L381.20,199.89 L382.52,199.90 L383.84,199.91 L385.16,199.93 L386.48,199.94 L387.80,199.95 L389.12,199.96 L390.44,199.97 L391.76,199.97 L393.07,199.98 L394.39,199.99 L395.71,199.99 L397.03,199.99 L398.35,200.00 L399.67,200.00 L400.99,199.99 L402.31,199.99 L403.63,199.98 L404.95,199.97 L406.27,199.96 L407.59,199.95 L408.91,199.93 L410.23,199.91 L411.55,199.88 L412.87,199.85 L414.19,199.81 L415.51,199.76 L416.83,199.71 L418.15,199.65 L419.47,199.59 L420.79,199.51 L422.11,199.42 L423.43,199.32 L424.75,199.21 L426.07,199.08 L427.39,198.93 L428.71,198.77 L430.02,198.59 L431.34,198.38 L432.66,198.15 L433.98,197.89 L435.30,197.60 L436.62,197.28 L437.94,196.92 L439.26,196.52 L440.58,196.08 L441.90,195.59 L443.22,195.06 L444.54,194.47 L445.86,193.84 L447.18,193.15 L448.50,192.40 L449.82,191.60 L451.14,190.74 L452.46,189.84 L453.78,188.88 L455.10,187.88 L456.42,186.83 L457.74,185.75 L459.06,184.64 L460.38,183.50 L461.70,182.35 L463.02,181.18 L464.34,180.00 L465.65,178.83 L466.97,177.66 L468.29,176.50 L469.61,175.36 L470.93,174.23 L472.25,173.12 L473.57,172.04 L474.89,170.98 L476.21,169.94 L477.53,168.94 L478.85,167.96 L480.17,167.01 L481.49,166.09 L482.81,165.20 L484.13,164.34 L485.45,163.51 L486.77,162.70 L488.09,161.93 L489.41,161.18 L490.73,160.45 L492.05,159.75 L493.37,159.08 L494.69,158.43 L496.01,157.80 L497.33,157.20 L498.65,156.62 L499.97,156.06 L501.28,155.52 L502.60,155.00 L503.92,154.50 L505.24,154.02 L506.56,153.55 L507.88,153.11 L509.20,152.68 L510.52,152.26 L511.84,151.87 L513.16,151.48 L514.48,151.11 L515.80,150.76 L517.12,150.42 L518.44,150.09 L519.76,149.77 L521.08,149.47 L522.40,149.18 L523.72,148.90 L525.04,148.63 L526.36,148.37 L527.68,148.12 L529.00,147.88 L530.32,147.65 L531.64,147.43 L532.96,147.22 L534.28,147.01 L535.60,146.82 L536.92,146.63 L538.23,146.45 L539.55,146.28 L540.87,146.11 L542.19,145.95 L543.51,145.80 L544.83,145.65 L546.15,145.51 L547.47,145.37 L548.79,145.24 L550.11,145.12 L551.43,145.00 L552.75,144.89 L554.07,144.78 L555.39,144.67 L556.71,144.57 L558.03,144.47 L559.35,144.38 L560.67,144.29 L561.99,144.20 L563.31,144.12 L564.63,144.04 L565.95,143.97 L567.27,143.90 L568.59,143.83 L569.91,143.76 L571.23,143.69 L572.55,143.63 L573.86,143.57 L575.18,143.52 L576.50,143.46 L577.82,143.41 L579.14,143.36 L580.46,143.31 L581.78,143.26 L583.10,143.21 L584.42,143.17 L585.74,143.13 L587.06,143.08 L588.38,143.04 L589.70,143.01 L591.02,142.97 L592.34,142.93 L593.66,142.90 L594.98,142.86 L596.30,142.83 L597.62,142.80 L598.94,142.76 L600.26,142.73 L601.58,142.70 L602.90,142.68 L604.22,142.65 L605.54,142.62 L606.86,142.59 L608.18,142.57 L609.49,142.54 L610.81,142.52 L612.13,142.49 L613.45,142.47 L614.77,142.44 L616.09,142.42 L617.41,142.40 L618.73,142.38 L620.05,142.35 L621.37,142.33 L622.69,142.31 L624.01,142.29 L625.33,142.27 L626.65,142.25 L627.97,142.23 L629.29,142.21 L630.61,142.19 L631.93,142.17 L633.25,142.15 L634.57,142.13 L635.89,142.12 L637.21,142.10 L638.53,142.08 L639.85,142.06 L641.17,142.05 L642.49,142.03 L643.81,142.01 L645.13,142.00 L646.44,141.98 L647.76,141.96 L649.08,141.95 L650.40,141.93 L651.72,141.92 L653.04,141.90 L654.36,141.88 L655.68,141.87 L657.00,141.85 L658.32,141.84 L659.64,141.82 L660.96,141.81 L662.28,141.80 L663.60,141.78"/>
</g>
<path d="M374.60,201.40V198.50M374.60,11.40V14.30M403.50,201.40V198.50M403.50,11.40V14.30M432.40,201.40V198.50M432.40,11.40V14.30M461.30,201.40V198.50M461.30,11.40V14.30M490.20,201.40V198.50M490.20,11.40V14.30M519.10,201.40V198.50M519.10,11.40V14.30M548.00,201.40V198.50M548.00,11.40V14.30M576.90,201.40V198.50M576.90,11.40V14.30M605.80,201.40V198.50M605.80,11.40V14.30M634.70,201.40V198.50M634.70,11.40V14.30M663.60,201.40V198.50M663.60,11.40V14.30M374.60,201.40H377.50M663.60,201.40H660.70M374.60,174.26H377.50M663.60,174.26H660.70M374.60,147.11H377.50M663.60,147.11H660.70M374.60,119.97H377.50M663.60,119.97H660.70M374.60,92.83H377.50M663.60,92.83H660.70M374.60,65.69H377.50M663.60,65.69H660.70M374.60,38.54H377.50M663.60,38.54H660.70M374.60,11.40H377.50M663.60,11.40H660.70" stroke="#404040" stroke-width="0.9" fill="none"/>
<rect x="374.60" y="11.40" width="289.00" height="190.00" fill="none" stroke="#404040" stroke-width="1"/>
<g font-family='"Liberation Sans", sans-serif' font-size="5.1" fill="#262626" stroke="#262626" stroke-width="0.12"><text x="374.60" y="209.40" text-anchor="middle">0</text><text x="403.50" y="209.40" text-anchor="middle">50</text><text x="432.40" y="209.40" text-anchor="middle">100</text><text x="461.30" y="209.40" text-anchor="middle">150</text><text x="490.20" y="209.40" text-anchor="middle">200</text><text x="519.10" y="209.40" text-anchor="middle">250</text><text x="548.00" y="209.40" text-anchor="middle">300</text><text x="576.90" y="209.40" text-anchor="middle">350</text><text x="605.80" y="209.40" text-anchor="middle">400</text><text x="634.70" y="209.40" text-anchor="middle">450</text><text x="663.60" y="209.40" text-anchor="middle">500</text><text x="372.00" y="204.00" text-anchor="end">0</text><text x="372.00" y="176.86" text-anchor="end">0.5</text><text x="372.00" y="149.71" text-anchor="end">1</text><text x="372.00" y="122.57" text-anchor="end">1.5</text><text x="372.00" y="95.43" text-anchor="end">2</text><text x="372.00" y="68.29" text-anchor="end">2.5</text><text x="372.00" y="41.14" text-anchor="end">3</text><text x="372.00" y="14.00" text-anchor="end">3.5</text></g>
<text x="374.90" y="10.10" font-family='"Liberation Sans", sans-serif' font-size="5.4" fill="#262626" stroke="#262626" stroke-width="0.12">&#215; 10<tspan font-size="3.8" dy="-2.2">4</tspan></text>
<text x="519.10" y="7.40" text-anchor="middle" font-family='"Liberation Sans", sans-serif' font-size="10.3" font-weight="bold" fill="#000"><tspan font-family='"Liberation Serif", serif' font-style="italic" font-weight="normal" font-size="11">&#977;</tspan><tspan dx="0.8">=0.90</tspan></text>
<text x="519.10" y="222.50" text-anchor="middle" font-family='"Liberation Sans", sans-serif' font-size="10.5" fill="#111" stroke="#111" stroke-width="0.25">Time in Days</text>
<text transform="translate(357.20,106.00) rotate(-90)" text-anchor="middle" font-family='"Liberation Sans", sans-serif' font-size="11.0" fill="#111" stroke="#111" stroke-width="0.25">Infected humans,  I<tspan font-size="7.92" dy="4.62">h</tspan></text>
<rect x="381.40" y="15.60" width="110.90" height="44.50" fill="#fff" stroke="#6a6a6a" stroke-width="1"/>
<line x1="384.00" y1="21.00" x2="400.70" y2="21.00" stroke="#0000ff" stroke-width="1.45"/>
<text x="401.60" y="23.09" font-family='"Liberation Sans", sans-serif' font-size="5.8" fill="#262626" stroke="#262626" stroke-width="0.12">Baseline values of <tspan font-family='"Liberation Serif", serif' font-style="italic" font-size="6.96">&#946;</tspan><tspan font-size="4.06" dy="2.90" dx="0.3">1</tspan><tspan dy="-2.90" dx="0.3">, </tspan><tspan font-family='"Liberation Serif", serif' font-style="italic" font-size="6.96">&#946;</tspan><tspan font-size="4.06" dy="2.90" dx="0.3">2</tspan><tspan dy="-2.90" dx="0.3">, </tspan><tspan font-family='"Liberation Serif", serif' font-style="italic" font-size="6.96">&#946;</tspan><tspan font-size="4.06" dy="2.90" dx="0.3">3</tspan></text>
<line x1="384.00" y1="30.90" x2="400.70" y2="30.90" stroke="#ff0000" stroke-width="1.45"/>
<text x="401.60" y="32.99" font-family='"Liberation Sans", sans-serif' font-size="5.8" fill="#262626" stroke="#262626" stroke-width="0.12">with 10% increase in contact rates</text>
<line x1="384.00" y1="39.30" x2="400.70" y2="39.30" stroke="#000000" stroke-width="1.45"/>
<text x="401.60" y="41.39" font-family='"Liberation Sans", sans-serif' font-size="5.8" fill="#262626" stroke="#262626" stroke-width="0.12">with 20% increase in contact rates</text>
<line x1="384.00" y1="47.00" x2="400.70" y2="47.00" stroke="#a2142f" stroke-width="1.45"/>
<text x="401.60" y="49.09" font-family='"Liberation Sans", sans-serif' font-size="5.8" fill="#262626" stroke="#262626" stroke-width="0.12">with 40% increase in contact rates</text>
<line x1="384.00" y1="55.10" x2="400.70" y2="55.10" stroke="#77ac30" stroke-width="1.45"/>
<text x="401.60" y="57.19" font-family='"Liberation Sans", sans-serif' font-size="5.8" fill="#262626" stroke="#262626" stroke-width="0.12">with 50% increase in contact rates</text>
<text x="510.00" y="243.00" text-anchor="middle" font-family='"Liberation Serif", serif' font-size="15" fill="#111">(b)</text>
<g stroke="#e8e8e8" stroke-width="0.8"><line x1="54.40" y1="283.40" x2="54.40" y2="473.20"/><line x1="83.30" y1="283.40" x2="83.30" y2="473.20"/><line x1="112.20" y1="283.40" x2="112.20" y2="473.20"/><line x1="141.10" y1="283.40" x2="141.10" y2="473.20"/><line x1="170.00" y1="283.40" x2="170.00" y2="473.20"/><line x1="198.90" y1="283.40" x2="198.90" y2="473.20"/><line x1="227.80" y1="283.40" x2="227.80" y2="473.20"/><line x1="256.70" y1="283.40" x2="256.70" y2="473.20"/><line x1="285.60" y1="283.40" x2="285.60" y2="473.20"/><line x1="25.50" y1="449.47" x2="314.50" y2="449.47"/><line x1="25.50" y1="425.75" x2="314.50" y2="425.75"/><line x1="25.50" y1="402.02" x2="314.50" y2="402.02"/><line x1="25.50" y1="378.30" x2="314.50" y2="378.30"/><line x1="25.50" y1="354.57" x2="314.50" y2="354.57"/><line x1="25.50" y1="330.85" x2="314.50" y2="330.85"/><line x1="25.50" y1="307.12" x2="314.50" y2="307.12"/></g>
<clipPath id="cc"><rect x="25.50" y="283.40" width="289.00" height="189.80"/></clipPath>
<g clip-path="url(#cc)" fill="none" stroke-width="1.25" stroke-linejoin="round">
<path stroke="#0000ff" d="M25.50,472.62 L26.82,472.61 L28.14,472.59 L29.46,472.58 L30.78,472.56 L32.10,472.54 L33.42,472.53 L34.74,472.51 L36.06,472.49 L37.38,472.47 L38.70,472.45 L40.02,472.43 L41.34,472.40 L42.66,472.38 L43.97,472.34 L45.29,472.31 L46.61,472.27 L47.93,472.23 L49.25,472.17 L50.57,472.11 L51.89,472.04 L53.21,471.95 L54.53,471.85 L55.85,471.73 L57.17,471.59 L58.49,471.42 L59.81,471.22 L61.13,470.97 L62.45,470.68 L63.77,470.33 L65.09,469.91 L66.41,469.40 L67.73,468.80 L69.05,468.09 L70.37,467.25 L71.69,466.25 L73.01,465.09 L74.33,463.73 L75.65,462.16 L76.97,460.37 L78.29,458.34 L79.61,456.07 L80.92,453.55 L82.24,450.80 L83.56,447.83 L84.88,444.67 L86.20,441.33 L87.52,437.85 L88.84,434.27 L90.16,430.60 L91.48,426.89 L92.80,423.16 L94.12,419.43 L95.44,415.72 L96.76,412.05 L98.08,408.43 L99.40,404.87 L100.72,401.38 L102.04,397.96 L103.36,394.62 L104.68,391.37 L106.00,388.20 L107.32,385.11 L108.64,382.10 L109.96,379.18 L111.28,376.34 L112.60,373.58 L113.92,370.90 L115.24,368.30 L116.55,365.78 L117.87,363.33 L119.19,360.96 L120.51,358.65 L121.83,356.42 L123.15,354.25 L124.47,352.15 L125.79,350.11 L127.11,348.14 L128.43,346.22 L129.75,344.37 L131.07,342.57 L132.39,340.82 L133.71,339.13 L135.03,337.49 L136.35,335.91 L137.67,334.37 L138.99,332.87 L140.31,331.43 L141.63,330.02 L142.95,328.66 L144.27,327.35 L145.59,326.07 L146.91,324.83 L148.23,323.63 L149.55,322.46 L150.87,321.33 L152.18,320.24 L153.50,319.18 L154.82,318.15 L156.14,317.15 L157.46,316.18 L158.78,315.24 L160.10,314.33 L161.42,313.45 L162.74,312.59 L164.06,311.76 L165.38,310.95 L166.70,310.17 L168.02,309.41 L169.34,308.67 L170.66,307.96 L171.98,307.26 L173.30,306.59 L174.62,305.94 L175.94,305.30 L177.26,304.68 L178.58,304.09 L179.90,303.50 L181.22,302.94 L182.54,302.39 L183.86,301.86 L185.18,301.34 L186.50,300.83 L187.82,300.34 L189.13,299.87 L190.45,299.40 L191.77,298.95 L193.09,298.52 L194.41,298.09 L195.73,297.68 L197.05,297.27 L198.37,296.88 L199.69,296.50 L201.01,296.13 L202.33,295.77 L203.65,295.41 L204.97,295.07 L206.29,294.73 L207.61,294.41 L208.93,294.09 L210.25,293.78 L211.57,293.48 L212.89,293.19 L214.21,292.90 L215.53,292.62 L216.85,292.35 L218.17,292.08 L219.49,291.82 L220.81,291.57 L222.13,291.32 L223.45,291.08 L224.76,290.85 L226.08,290.62 L227.40,290.40 L228.72,290.18 L230.04,289.96 L231.36,289.76 L232.68,289.55 L234.00,289.36 L235.32,289.16 L236.64,288.97 L237.96,288.79 L239.28,288.61 L240.60,288.43 L241.92,288.26 L243.24,288.09 L244.56,287.93 L245.88,287.77 L247.20,287.61 L248.52,287.46 L249.84,287.31 L251.16,287.17 L252.48,287.03 L253.80,286.89 L255.12,286.76 L256.44,286.62 L257.76,286.50 L259.08,286.37 L260.39,286.25 L261.71,286.13 L263.03,286.01 L264.35,285.90 L265.67,285.79 L266.99,285.68 L268.31,285.58 L269.63,285.48 L270.95,285.38 L272.27,285.28 L273.59,285.18 L274.91,285.09 L276.23,285.00 L277.55,284.91 L278.87,284.83 L280.19,284.74 L281.51,284.66 L282.83,284.58 L284.15,284.50 L285.47,284.43 L286.79,284.35 L288.11,284.28 L289.43,284.21 L290.75,284.14 L292.07,284.07 L293.39,284.01 L294.71,283.94 L296.03,283.88 L297.34,283.82 L298.66,283.76 L299.98,283.70 L301.30,283.65 L302.62,283.59 L303.94,283.53 L305.26,283.48 L306.58,283.43 L307.90,283.38 L309.22,283.33 L310.54,283.28 L311.86,283.23 L313.18,283.18 L314.50,283.14"/>
<path stroke="#ff0000" d="M25.50,472.78 L26.82,472.77 L28.14,472.76 L29.46,472.75 L30.78,472.74 L32.10,472.73 L33.42,472.71 L34.74,472.70 L36.06,472.68 L37.38,472.66 L38.70,472.63 L40.02,472.61 L41.34,472.57 L42.66,472.54 L43.97,472.49 L45.29,472.44 L46.61,472.39 L47.93,472.32 L49.25,472.25 L50.57,472.17 L51.89,472.07 L53.21,471.96 L54.53,471.83 L55.85,471.68 L57.17,471.51 L58.49,471.32 L59.81,471.09 L61.13,470.84 L62.45,470.55 L63.77,470.21 L65.09,469.83 L66.41,469.39 L67.73,468.90 L69.05,468.33 L70.37,467.69 L71.69,466.96 L73.01,466.14 L74.33,465.21 L75.65,464.17 L76.97,463.00 L78.29,461.71 L79.61,460.27 L80.92,458.68 L82.24,456.94 L83.56,455.05 L84.88,453.00 L86.20,450.79 L87.52,448.44 L88.84,445.96 L90.16,443.34 L91.48,440.61 L92.80,437.78 L94.12,434.88 L95.44,431.91 L96.76,428.90 L98.08,425.85 L99.40,422.80 L100.72,419.75 L102.04,416.72 L103.36,413.71 L104.68,410.75 L106.00,407.82 L107.32,404.95 L108.64,402.14 L109.96,399.39 L111.28,396.71 L112.60,394.09 L113.92,391.54 L115.24,389.06 L116.55,386.65 L117.87,384.32 L119.19,382.05 L120.51,379.84 L121.83,377.71 L123.15,375.64 L124.47,373.64 L125.79,371.70 L127.11,369.82 L128.43,368.00 L129.75,366.25 L131.07,364.54 L132.39,362.90 L133.71,361.31 L135.03,359.77 L136.35,358.28 L137.67,356.84 L138.99,355.45 L140.31,354.10 L141.63,352.80 L142.95,351.54 L144.27,350.33 L145.59,349.15 L146.91,348.02 L148.23,346.92 L149.55,345.86 L150.87,344.83 L152.18,343.84 L153.50,342.89 L154.82,341.97 L156.14,341.07 L157.46,340.21 L158.78,339.38 L160.10,338.58 L161.42,337.81 L162.74,337.06 L164.06,336.34 L165.38,335.64 L166.70,334.97 L168.02,334.32 L169.34,333.70 L170.66,333.09 L171.98,332.51 L173.30,331.95 L174.62,331.41 L175.94,330.89 L177.26,330.39 L178.58,329.91 L179.90,329.44 L181.22,328.99 L182.54,328.56 L183.86,328.14 L185.18,327.74 L186.50,327.35 L187.82,326.98 L189.13,326.61 L190.45,326.27 L191.77,325.93 L193.09,325.60 L194.41,325.29 L195.73,324.98 L197.05,324.69 L198.37,324.40 L199.69,324.13 L201.01,323.86 L202.33,323.60 L203.65,323.35 L204.97,323.10 L206.29,322.87 L207.61,322.64 L208.93,322.41 L210.25,322.20 L211.57,321.98 L212.89,321.78 L214.21,321.58 L215.53,321.38 L216.85,321.19 L218.17,321.00 L219.49,320.82 L220.81,320.65 L222.13,320.47 L223.45,320.30 L224.76,320.14 L226.08,319.98 L227.40,319.82 L228.72,319.66 L230.04,319.51 L231.36,319.36 L232.68,319.22 L234.00,319.07 L235.32,318.94 L236.64,318.80 L237.96,318.67 L239.28,318.53 L240.60,318.41 L241.92,318.28 L243.24,318.16 L244.56,318.04 L245.88,317.92 L247.20,317.80 L248.52,317.69 L249.84,317.58 L251.16,317.47 L252.48,317.36 L253.80,317.26 L255.12,317.15 L256.44,317.05 L257.76,316.95 L259.08,316.86 L260.39,316.76 L261.71,316.67 L263.03,316.58 L264.35,316.49 L265.67,316.40 L266.99,316.32 L268.31,316.23 L269.63,316.15 L270.95,316.07 L272.27,315.99 L273.59,315.92 L274.91,315.84 L276.23,315.77 L277.55,315.69 L278.87,315.62 L280.19,315.55 L281.51,315.49 L282.83,315.42 L284.15,315.35 L285.47,315.29 L286.79,315.23 L288.11,315.17 L289.43,315.11 L290.75,315.05 L292.07,314.99 L293.39,314.93 L294.71,314.88 L296.03,314.82 L297.34,314.77 L298.66,314.72 L299.98,314.67 L301.30,314.62 L302.62,314.57 L303.94,314.52 L305.26,314.47 L306.58,314.42 L307.90,314.38 L309.22,314.33 L310.54,314.28 L311.86,314.24 L313.18,314.20 L314.50,314.15"/>
<path stroke="#000000" d="M25.50,472.87 L26.82,472.86 L28.14,472.86 L29.46,472.85 L30.78,472.85 L32.10,472.84 L33.42,472.83 L34.74,472.81 L36.06,472.80 L37.38,472.78 L38.70,472.75 L40.02,472.73 L41.34,472.70 L42.66,472.66 L43.97,472.62 L45.29,472.57 L46.61,472.52 L47.93,472.45 L49.25,472.38 L50.57,472.30 L51.89,472.21 L53.21,472.10 L54.53,471.98 L55.85,471.85 L57.17,471.70 L58.49,471.53 L59.81,471.34 L61.13,471.12 L62.45,470.88 L63.77,470.61 L65.09,470.30 L66.41,469.96 L67.73,469.58 L69.05,469.15 L70.37,468.67 L71.69,468.14 L73.01,467.56 L74.33,466.90 L75.65,466.18 L76.97,465.38 L78.29,464.51 L79.61,463.55 L80.92,462.49 L82.24,461.35 L83.56,460.10 L84.88,458.76 L86.20,457.31 L87.52,455.76 L88.84,454.10 L90.16,452.35 L91.48,450.50 L92.80,448.56 L94.12,446.53 L95.44,444.43 L96.76,442.26 L98.08,440.04 L99.40,437.77 L100.72,435.46 L102.04,433.13 L103.36,430.78 L104.68,428.43 L106.00,426.08 L107.32,423.74 L108.64,421.43 L109.96,419.13 L111.28,416.87 L112.60,414.64 L113.92,412.46 L115.24,410.31 L116.55,408.21 L117.87,406.16 L119.19,404.16 L120.51,402.20 L121.83,400.30 L123.15,398.45 L124.47,396.65 L125.79,394.90 L127.11,393.19 L128.43,391.54 L129.75,389.94 L131.07,388.38 L132.39,386.87 L133.71,385.40 L135.03,383.98 L136.35,382.61 L137.67,381.28 L138.99,379.98 L140.31,378.73 L141.63,377.52 L142.95,376.35 L144.27,375.21 L145.59,374.11 L146.91,373.05 L148.23,372.02 L149.55,371.02 L150.87,370.06 L152.18,369.13 L153.50,368.23 L154.82,367.35 L156.14,366.51 L157.46,365.69 L158.78,364.91 L160.10,364.14 L161.42,363.41 L162.74,362.69 L164.06,362.00 L165.38,361.34 L166.70,360.69 L168.02,360.07 L169.34,359.47 L170.66,358.89 L171.98,358.33 L173.30,357.79 L174.62,357.26 L175.94,356.76 L177.26,356.27 L178.58,355.80 L179.90,355.34 L181.22,354.90 L182.54,354.48 L183.86,354.07 L185.18,353.67 L186.50,353.29 L187.82,352.92 L189.13,352.56 L190.45,352.21 L191.77,351.88 L193.09,351.56 L194.41,351.24 L195.73,350.94 L197.05,350.65 L198.37,350.37 L199.69,350.09 L201.01,349.83 L202.33,349.57 L203.65,349.32 L204.97,349.08 L206.29,348.85 L207.61,348.62 L208.93,348.40 L210.25,348.19 L211.57,347.98 L212.89,347.78 L214.21,347.59 L215.53,347.40 L216.85,347.21 L218.17,347.04 L219.49,346.86 L220.81,346.69 L222.13,346.53 L223.45,346.37 L224.76,346.21 L226.08,346.06 L227.40,345.91 L228.72,345.77 L230.04,345.63 L231.36,345.49 L232.68,345.36 L234.00,345.23 L235.32,345.10 L236.64,344.98 L237.96,344.86 L239.28,344.74 L240.60,344.62 L241.92,344.51 L243.24,344.40 L244.56,344.30 L245.88,344.19 L247.20,344.09 L248.52,343.99 L249.84,343.90 L251.16,343.80 L252.48,343.71 L253.80,343.62 L255.12,343.54 L256.44,343.45 L257.76,343.37 L259.08,343.29 L260.39,343.21 L261.71,343.14 L263.03,343.06 L264.35,342.99 L265.67,342.92 L266.99,342.85 L268.31,342.78 L269.63,342.72 L270.95,342.65 L272.27,342.59 L273.59,342.53 L274.91,342.47 L276.23,342.42 L277.55,342.36 L278.87,342.31 L280.19,342.25 L281.51,342.20 L282.83,342.15 L284.15,342.11 L285.47,342.06 L286.79,342.01 L288.11,341.97 L289.43,341.92 L290.75,341.88 L292.07,341.84 L293.39,341.80 L294.71,341.76 L296.03,341.73 L297.34,341.69 L298.66,341.65 L299.98,341.62 L301.30,341.58 L302.62,341.55 L303.94,341.52 L305.26,341.49 L306.58,341.46 L307.90,341.43 L309.22,341.40 L310.54,341.37 L311.86,341.34 L313.18,341.31 L314.50,341.29"/>
<path stroke="#a2142f" d="M25.50,472.66 L26.82,472.65 L28.14,472.65 L29.46,472.64 L30.78,472.64 L32.10,472.63 L33.42,472.63 L34.74,472.62 L36.06,472.61 L37.38,472.60 L38.70,472.59 L40.02,472.58 L41.34,472.57 L42.66,472.56 L43.97,472.55 L45.29,472.53 L46.61,472.51 L47.93,472.49 L49.25,472.47 L50.57,472.44 L51.89,472.41 L53.21,472.38 L54.53,472.35 L55.85,472.31 L57.17,472.26 L58.49,472.21 L59.81,472.15 L61.13,472.09 L62.45,472.02 L63.77,471.94 L65.09,471.85 L66.41,471.75 L67.73,471.64 L69.05,471.51 L70.37,471.37 L71.69,471.22 L73.01,471.04 L74.33,470.85 L75.65,470.63 L76.97,470.39 L78.29,470.12 L79.61,469.82 L80.92,469.49 L82.24,469.13 L83.56,468.72 L84.88,468.28 L86.20,467.78 L87.52,467.24 L88.84,466.65 L90.16,466.01 L91.48,465.30 L92.80,464.53 L94.12,463.70 L95.44,462.80 L96.76,461.84 L98.08,460.80 L99.40,459.70 L100.72,458.53 L102.04,457.29 L103.36,455.99 L104.68,454.63 L106.00,453.22 L107.32,451.76 L108.64,450.26 L109.96,448.72 L111.28,447.16 L112.60,445.57 L113.92,443.97 L115.24,442.36 L116.55,440.75 L117.87,439.15 L119.19,437.56 L120.51,435.98 L121.83,434.43 L123.15,432.90 L124.47,431.40 L125.79,429.92 L127.11,428.49 L128.43,427.08 L129.75,425.71 L131.07,424.38 L132.39,423.09 L133.71,421.83 L135.03,420.61 L136.35,419.42 L137.67,418.28 L138.99,417.17 L140.31,416.09 L141.63,415.06 L142.95,414.05 L144.27,413.08 L145.59,412.14 L146.91,411.24 L148.23,410.36 L149.55,409.52 L150.87,408.70 L152.18,407.91 L153.50,407.15 L154.82,406.42 L156.14,405.72 L157.46,405.03 L158.78,404.38 L160.10,403.74 L161.42,403.13 L162.74,402.54 L164.06,401.98 L165.38,401.43 L166.70,400.90 L168.02,400.39 L169.34,399.91 L170.66,399.43 L171.98,398.98 L173.30,398.54 L174.62,398.12 L175.94,397.72 L177.26,397.32 L178.58,396.95 L179.90,396.58 L181.22,396.23 L182.54,395.90 L183.86,395.57 L185.18,395.26 L186.50,394.96 L187.82,394.66 L189.13,394.38 L190.45,394.11 L191.77,393.85 L193.09,393.60 L194.41,393.35 L195.73,393.12 L197.05,392.89 L198.37,392.67 L199.69,392.45 L201.01,392.25 L202.33,392.05 L203.65,391.85 L204.97,391.66 L206.29,391.48 L207.61,391.31 L208.93,391.14 L210.25,390.97 L211.57,390.81 L212.89,390.65 L214.21,390.50 L215.53,390.36 L216.85,390.21 L218.17,390.08 L219.49,389.94 L220.81,389.81 L222.13,389.68 L223.45,389.56 L224.76,389.44 L226.08,389.33 L227.40,389.21 L228.72,389.10 L230.04,389.00 L231.36,388.89 L232.68,388.79 L234.00,388.69 L235.32,388.60 L236.64,388.51 L237.96,388.42 L239.28,388.33 L240.60,388.24 L241.92,388.16 L243.24,388.08 L244.56,388.00 L245.88,387.93 L247.20,387.85 L248.52,387.78 L249.84,387.71 L251.16,387.64 L252.48,387.58 L253.80,387.51 L255.12,387.45 L256.44,387.39 L257.76,387.33 L259.08,387.27 L260.39,387.22 L261.71,387.16 L263.03,387.11 L264.35,387.06 L265.67,387.01 L266.99,386.96 L268.31,386.91 L269.63,386.87 L270.95,386.82 L272.27,386.78 L273.59,386.74 L274.91,386.69 L276.23,386.65 L277.55,386.61 L278.87,386.58 L280.19,386.54 L281.51,386.50 L282.83,386.47 L284.15,386.43 L285.47,386.40 L286.79,386.37 L288.11,386.34 L289.43,386.30 L290.75,386.27 L292.07,386.25 L293.39,386.22 L294.71,386.19 L296.03,386.16 L297.34,386.13 L298.66,386.11 L299.98,386.08 L301.30,386.06 L302.62,386.03 L303.94,386.01 L305.26,385.99 L306.58,385.96 L307.90,385.94 L309.22,385.92 L310.54,385.90 L311.86,385.88 L313.18,385.86 L314.50,385.84"/>
<path stroke="#77ac30" d="M25.50,472.69 L26.82,472.69 L28.14,472.70 L29.46,472.70 L30.78,472.70 L32.10,472.70 L33.42,472.70 L34.74,472.70 L36.06,472.70 L37.38,472.69 L38.70,472.69 L40.02,472.69 L41.34,472.68 L42.66,472.68 L43.97,472.67 L45.29,472.66 L46.61,472.66 L47.93,472.64 L49.25,472.63 L50.57,472.62 L51.89,472.60 L53.21,472.59 L54.53,472.57 L55.85,472.54 L57.17,472.52 L58.49,472.49 L59.81,472.46 L61.13,472.42 L62.45,472.38 L63.77,472.34 L65.09,472.29 L66.41,472.24 L67.73,472.18 L69.05,472.11 L70.37,472.04 L71.69,471.96 L73.01,471.87 L74.33,471.77 L75.65,471.67 L76.97,471.55 L78.29,471.42 L79.61,471.28 L80.92,471.13 L82.24,470.96 L83.56,470.78 L84.88,470.58 L86.20,470.37 L87.52,470.13 L88.84,469.88 L90.16,469.60 L91.48,469.31 L92.80,468.98 L94.12,468.64 L95.44,468.26 L96.76,467.86 L98.08,467.42 L99.40,466.96 L100.72,466.46 L102.04,465.92 L103.36,465.35 L104.68,464.74 L106.00,464.09 L107.32,463.40 L108.64,462.67 L109.96,461.90 L111.28,461.08 L112.60,460.23 L113.92,459.33 L115.24,458.39 L116.55,457.42 L117.87,456.41 L119.19,455.36 L120.51,454.29 L121.83,453.19 L123.15,452.06 L124.47,450.91 L125.79,449.75 L127.11,448.57 L128.43,447.38 L129.75,446.19 L131.07,445.00 L132.39,443.82 L133.71,442.63 L135.03,441.46 L136.35,440.31 L137.67,439.17 L138.99,438.04 L140.31,436.94 L141.63,435.86 L142.95,434.80 L144.27,433.77 L145.59,432.76 L146.91,431.78 L148.23,430.83 L149.55,429.90 L150.87,429.00 L152.18,428.13 L153.50,427.29 L154.82,426.47 L156.14,425.68 L157.46,424.92 L158.78,424.18 L160.10,423.47 L161.42,422.79 L162.74,422.12 L164.06,421.48 L165.38,420.87 L166.70,420.27 L168.02,419.70 L169.34,419.15 L170.66,418.62 L171.98,418.11 L173.30,417.61 L174.62,417.14 L175.94,416.68 L177.26,416.25 L178.58,415.82 L179.90,415.42 L181.22,415.03 L182.54,414.65 L183.86,414.29 L185.18,413.94 L186.50,413.60 L187.82,413.28 L189.13,412.97 L190.45,412.67 L191.77,412.39 L193.09,412.11 L194.41,411.85 L195.73,411.59 L197.05,411.35 L198.37,411.11 L199.69,410.88 L201.01,410.66 L202.33,410.45 L203.65,410.25 L204.97,410.06 L206.29,409.87 L207.61,409.69 L208.93,409.51 L210.25,409.35 L211.57,409.18 L212.89,409.03 L214.21,408.88 L215.53,408.73 L216.85,408.59 L218.17,408.46 L219.49,408.33 L220.81,408.20 L222.13,408.08 L223.45,407.96 L224.76,407.85 L226.08,407.74 L227.40,407.63 L228.72,407.53 L230.04,407.43 L231.36,407.33 L232.68,407.24 L234.00,407.15 L235.32,407.06 L236.64,406.98 L237.96,406.90 L239.28,406.82 L240.60,406.74 L241.92,406.67 L243.24,406.59 L244.56,406.52 L245.88,406.45 L247.20,406.39 L248.52,406.32 L249.84,406.26 L251.16,406.20 L252.48,406.14 L253.80,406.08 L255.12,406.02 L256.44,405.97 L257.76,405.92 L259.08,405.86 L260.39,405.81 L261.71,405.76 L263.03,405.71 L264.35,405.67 L265.67,405.62 L266.99,405.57 L268.31,405.53 L269.63,405.48 L270.95,405.44 L272.27,405.40 L273.59,405.36 L274.91,405.32 L276.23,405.28 L277.55,405.24 L278.87,405.20 L280.19,405.16 L281.51,405.13 L282.83,405.09 L284.15,405.06 L285.47,405.02 L286.79,404.99 L288.11,404.95 L289.43,404.92 L290.75,404.89 L292.07,404.85 L293.39,404.82 L294.71,404.79 L296.03,404.76 L297.34,404.73 L298.66,404.70 L299.98,404.67 L301.30,404.64 L302.62,404.61 L303.94,404.59 L305.26,404.56 L306.58,404.53 L307.90,404.50 L309.22,404.48 L310.54,404.45 L311.86,404.42 L313.18,404.40 L314.50,404.37"/>
</g>
<path d="M25.50,473.20V470.30M25.50,283.40V286.30M54.40,473.20V470.30M54.40,283.40V286.30M83.30,473.20V470.30M83.30,283.40V286.30M112.20,473.20V470.30M112.20,283.40V286.30M141.10,473.20V470.30M141.10,283.40V286.30M170.00,473.20V470.30M170.00,283.40V286.30M198.90,473.20V470.30M198.90,283.40V286.30M227.80,473.20V470.30M227.80,283.40V286.30M256.70,473.20V470.30M256.70,283.40V286.30M285.60,473.20V470.30M285.60,283.40V286.30M314.50,473.20V470.30M314.50,283.40V286.30M25.50,473.20H28.40M314.50,473.20H311.60M25.50,449.47H28.40M314.50,449.47H311.60M25.50,425.75H28.40M314.50,425.75H311.60M25.50,402.02H28.40M314.50,402.02H311.60M25.50,378.30H28.40M314.50,378.30H311.60M25.50,354.57H28.40M314.50,354.57H311.60M25.50,330.85H28.40M314.50,330.85H311.60M25.50,307.12H28.40M314.50,307.12H311.60M25.50,283.40H28.40M314.50,283.40H311.60" stroke="#404040" stroke-width="0.9" fill="none"/>
<rect x="25.50" y="283.40" width="289.00" height="189.80" fill="none" stroke="#404040" stroke-width="1"/>
<g font-family='"Liberation Sans", sans-serif' font-size="5.1" fill="#262626" stroke="#262626" stroke-width="0.12"><text x="25.50" y="481.20" text-anchor="middle">0</text><text x="54.40" y="481.20" text-anchor="middle">50</text><text x="83.30" y="481.20" text-anchor="middle">100</text><text x="112.20" y="481.20" text-anchor="middle">150</text><text x="141.10" y="481.20" text-anchor="middle">200</text><text x="170.00" y="481.20" text-anchor="middle">250</text><text x="198.90" y="481.20" text-anchor="middle">300</text><text x="227.80" y="481.20" text-anchor="middle">350</text><text x="256.70" y="481.20" text-anchor="middle">400</text><text x="285.60" y="481.20" text-anchor="middle">450</text><text x="314.50" y="481.20" text-anchor="middle">500</text><text x="22.90" y="475.80" text-anchor="end">0</text><text x="22.90" y="452.07" text-anchor="end">0.5</text><text x="22.90" y="428.35" text-anchor="end">1</text><text x="22.90" y="404.62" text-anchor="end">1.5</text><text x="22.90" y="380.90" text-anchor="end">2</text><text x="22.90" y="357.18" text-anchor="end">2.5</text><text x="22.90" y="333.45" text-anchor="end">3</text><text x="22.90" y="309.73" text-anchor="end">3.5</text><text x="22.90" y="286.00" text-anchor="end">4</text></g>
<text x="25.80" y="282.10" font-family='"Liberation Sans", sans-serif' font-size="5.4" fill="#262626" stroke="#262626" stroke-width="0.12">&#215; 10<tspan font-size="3.8" dy="-2.2">4</tspan></text>
<text x="170.00" y="279.40" text-anchor="middle" font-family='"Liberation Sans", sans-serif' font-size="10.3" font-weight="bold" fill="#000"><tspan font-family='"Liberation Serif", serif' font-style="italic" font-weight="normal" font-size="11">&#977;</tspan><tspan dx="0.8">=0.90</tspan></text>
<text x="170.00" y="494.30" text-anchor="middle" font-family='"Liberation Sans", sans-serif' font-size="10.5" fill="#111" stroke="#111" stroke-width="0.25">Time in Days</text>
<text transform="translate(8.80,374.60) rotate(-90)" text-anchor="middle" font-family='"Liberation Sans", sans-serif' font-size="11.3" fill="#111" stroke="#111" stroke-width="0.25">Clinically ill humans, C<tspan font-size="8.14" dy="4.75">h</tspan></text>
<rect x="25.60" y="285.60" width="109.90" height="42.50" fill="#fff" stroke="#6a6a6a" stroke-width="1"/>
<line x1="28.00" y1="291.80" x2="44.00" y2="291.80" stroke="#0000ff" stroke-width="1.45"/>
<text x="45.40" y="293.89" font-family='"Liberation Sans", sans-serif' font-size="5.8" fill="#262626" stroke="#262626" stroke-width="0.12">Baseline values of <tspan font-family='"Liberation Serif", serif' font-style="italic" font-size="6.96">&#946;</tspan><tspan font-size="4.06" dy="2.90" dx="0.3">1</tspan><tspan dy="-2.90" dx="0.3">, </tspan><tspan font-family='"Liberation Serif", serif' font-style="italic" font-size="6.96">&#946;</tspan><tspan font-size="4.06" dy="2.90" dx="0.3">2</tspan><tspan dy="-2.90" dx="0.3">, </tspan><tspan font-family='"Liberation Serif", serif' font-style="italic" font-size="6.96">&#946;</tspan><tspan font-size="4.06" dy="2.90" dx="0.3">3</tspan></text>
<line x1="28.00" y1="301.40" x2="44.00" y2="301.40" stroke="#ff0000" stroke-width="1.45"/>
<text x="45.40" y="303.49" font-family='"Liberation Sans", sans-serif' font-size="5.8" fill="#262626" stroke="#262626" stroke-width="0.12">with 10% increase in contact rates</text>
<line x1="28.00" y1="309.10" x2="44.00" y2="309.10" stroke="#000000" stroke-width="1.45"/>
<text x="45.40" y="311.19" font-family='"Liberation Sans", sans-serif' font-size="5.8" fill="#262626" stroke="#262626" stroke-width="0.12">with 20% increase in contact rates</text>
<line x1="28.00" y1="317.30" x2="44.00" y2="317.30" stroke="#a2142f" stroke-width="1.45"/>
<text x="45.40" y="319.39" font-family='"Liberation Sans", sans-serif' font-size="5.8" fill="#262626" stroke="#262626" stroke-width="0.12">with 40% increase in contact rates</text>
<line x1="28.00" y1="325.30" x2="44.00" y2="325.30" stroke="#77ac30" stroke-width="1.45"/>
<text x="45.40" y="327.39" font-family='"Liberation Sans", sans-serif' font-size="5.8" fill="#262626" stroke="#262626" stroke-width="0.12">with 50% increase in contact rates</text>
<text x="160.80" y="515.00" text-anchor="middle" font-family='"Liberation Serif", serif' font-size="15" fill="#111">(c)</text>
<g stroke="#e8e8e8" stroke-width="0.8"><line x1="403.40" y1="283.30" x2="403.40" y2="473.10"/><line x1="432.30" y1="283.30" x2="432.30" y2="473.10"/><line x1="461.20" y1="283.30" x2="461.20" y2="473.10"/><line x1="490.10" y1="283.30" x2="490.10" y2="473.10"/><line x1="519.00" y1="283.30" x2="519.00" y2="473.10"/><line x1="547.90" y1="283.30" x2="547.90" y2="473.10"/><line x1="576.80" y1="283.30" x2="576.80" y2="473.10"/><line x1="605.70" y1="283.30" x2="605.70" y2="473.10"/><line x1="634.60" y1="283.30" x2="634.60" y2="473.10"/><line x1="374.50" y1="435.14" x2="663.50" y2="435.14"/><line x1="374.50" y1="397.18" x2="663.50" y2="397.18"/><line x1="374.50" y1="359.22" x2="663.50" y2="359.22"/><line x1="374.50" y1="321.26" x2="663.50" y2="321.26"/></g>
<clipPath id="cd"><rect x="374.50" y="283.30" width="289.00" height="189.80"/></clipPath>
<g clip-path="url(#cd)" fill="none" stroke-width="1.25" stroke-linejoin="round">
<path stroke="#0000ff" d="M374.50,472.23 L375.82,472.15 L377.14,472.05 L378.46,471.93 L379.78,471.79 L381.10,471.62 L382.42,471.41 L383.74,471.16 L385.06,470.86 L386.38,470.49 L387.70,470.03 L389.02,469.46 L390.34,468.76 L391.66,467.90 L392.97,466.83 L394.29,465.52 L395.61,463.89 L396.93,461.90 L398.25,459.45 L399.57,456.45 L400.89,452.81 L402.21,448.39 L403.53,443.08 L404.85,436.74 L406.17,429.25 L407.49,420.51 L408.81,410.46 L410.13,399.11 L411.45,386.56 L412.77,373.02 L414.09,358.86 L415.41,344.58 L416.73,330.80 L418.05,318.23 L419.37,307.57 L420.69,299.54 L422.01,294.71 L423.33,293.13 L424.65,294.75 L425.97,299.29 L427.29,306.29 L428.61,315.19 L429.92,325.39 L431.24,336.32 L432.56,347.50 L433.88,358.52 L435.20,369.09 L436.52,379.01 L437.84,388.14 L439.16,396.44 L440.48,403.89 L441.80,410.52 L443.12,416.38 L444.44,421.52 L445.76,426.03 L447.08,429.96 L448.40,433.38 L449.72,436.36 L451.04,438.95 L452.36,441.21 L453.68,443.18 L455.00,444.89 L456.32,446.40 L457.64,447.72 L458.96,448.89 L460.28,449.92 L461.60,450.84 L462.92,451.67 L464.24,452.41 L465.55,453.08 L466.87,453.69 L468.19,454.25 L469.51,454.77 L470.83,455.25 L472.15,455.70 L473.47,456.11 L474.79,456.51 L476.11,456.88 L477.43,457.23 L478.75,457.57 L480.07,457.89 L481.39,458.21 L482.71,458.50 L484.03,458.79 L485.35,459.07 L486.67,459.34 L487.99,459.60 L489.31,459.86 L490.63,460.10 L491.95,460.34 L493.27,460.58 L494.59,460.80 L495.91,461.03 L497.23,461.24 L498.55,461.45 L499.87,461.66 L501.18,461.86 L502.50,462.06 L503.82,462.25 L505.14,462.43 L506.46,462.62 L507.78,462.79 L509.10,462.97 L510.42,463.14 L511.74,463.30 L513.06,463.46 L514.38,463.62 L515.70,463.77 L517.02,463.92 L518.34,464.06 L519.66,464.20 L520.98,464.34 L522.30,464.48 L523.62,464.61 L524.94,464.73 L526.26,464.86 L527.58,464.97 L528.90,465.09 L530.22,465.20 L531.54,465.31 L532.86,465.42 L534.18,465.52 L535.50,465.63 L536.82,465.72 L538.13,465.82 L539.45,465.91 L540.77,466.00 L542.09,466.09 L543.41,466.17 L544.73,466.26 L546.05,466.34 L547.37,466.42 L548.69,466.49 L550.01,466.57 L551.33,466.64 L552.65,466.71 L553.97,466.78 L555.29,466.84 L556.61,466.91 L557.93,466.97 L559.25,467.03 L560.57,467.09 L561.89,467.15 L563.21,467.20 L564.53,467.26 L565.85,467.31 L567.17,467.37 L568.49,467.42 L569.81,467.47 L571.13,467.52 L572.45,467.56 L573.76,467.61 L575.08,467.66 L576.40,467.70 L577.72,467.75 L579.04,467.79 L580.36,467.83 L581.68,467.87 L583.00,467.91 L584.32,467.95 L585.64,467.99 L586.96,468.03 L588.28,468.07 L589.60,468.10 L590.92,468.14 L592.24,468.18 L593.56,468.21 L594.88,468.25 L596.20,468.28 L597.52,468.32 L598.84,468.35 L600.16,468.39 L601.48,468.42 L602.80,468.45 L604.12,468.48 L605.44,468.52 L606.76,468.55 L608.08,468.58 L609.39,468.61 L610.71,468.64 L612.03,468.68 L613.35,468.71 L614.67,468.74 L615.99,468.77 L617.31,468.80 L618.63,468.83 L619.95,468.86 L621.27,468.89 L622.59,468.92 L623.91,468.95 L625.23,468.98 L626.55,469.01 L627.87,469.04 L629.19,469.07 L630.51,469.10 L631.83,469.13 L633.15,469.16 L634.47,469.18 L635.79,469.21 L637.11,469.24 L638.43,469.27 L639.75,469.30 L641.07,469.33 L642.39,469.35 L643.71,469.38 L645.03,469.41 L646.34,469.43 L647.66,469.46 L648.98,469.49 L650.30,469.51 L651.62,469.54 L652.94,469.57 L654.26,469.59 L655.58,469.62 L656.90,469.64 L658.22,469.66 L659.54,469.69 L660.86,469.71 L662.18,469.74 L663.50,469.76"/>
<path stroke="#ff0000" d="M374.50,472.36 L375.82,472.21 L377.14,472.05 L378.46,471.86 L379.78,471.65 L381.10,471.40 L382.42,471.12 L383.74,470.79 L385.06,470.41 L386.38,469.96 L387.70,469.44 L389.02,468.83 L390.34,468.11 L391.66,467.27 L392.97,466.28 L394.29,465.11 L395.61,463.74 L396.93,462.14 L398.25,460.25 L399.57,458.03 L400.89,455.43 L402.21,452.40 L403.53,448.86 L404.85,444.74 L406.17,439.98 L407.49,434.49 L408.81,428.21 L410.13,421.06 L411.45,413.02 L412.77,404.05 L414.09,394.20 L415.41,383.54 L416.73,372.22 L418.05,360.50 L419.37,348.71 L420.69,337.28 L422.01,326.73 L423.33,317.60 L424.65,310.44 L425.97,305.69 L427.29,303.67 L428.61,305.11 L429.92,309.37 L431.24,316.12 L432.56,324.84 L433.88,334.96 L435.20,345.86 L436.52,356.99 L437.84,367.87 L439.16,378.18 L440.48,387.68 L441.80,396.25 L443.12,403.84 L444.44,410.49 L445.76,416.26 L447.08,421.22 L448.40,425.46 L449.72,429.10 L451.04,432.20 L452.36,434.86 L453.68,437.15 L455.00,439.12 L456.32,440.84 L457.64,442.35 L458.96,443.68 L460.28,444.86 L461.60,445.92 L462.92,446.89 L464.24,447.77 L465.55,448.59 L466.87,449.34 L468.19,450.05 L469.51,450.72 L470.83,451.35 L472.15,451.95 L473.47,452.52 L474.79,453.07 L476.11,453.60 L477.43,454.11 L478.75,454.60 L480.07,455.07 L481.39,455.53 L482.71,455.97 L484.03,456.40 L485.35,456.82 L486.67,457.22 L487.99,457.61 L489.31,457.99 L490.63,458.36 L491.95,458.72 L493.27,459.06 L494.59,459.40 L495.91,459.73 L497.23,460.04 L498.55,460.35 L499.87,460.64 L501.18,460.93 L502.50,461.21 L503.82,461.48 L505.14,461.74 L506.46,461.99 L507.78,462.24 L509.10,462.47 L510.42,462.70 L511.74,462.92 L513.06,463.14 L514.38,463.34 L515.70,463.54 L517.02,463.74 L518.34,463.92 L519.66,464.10 L520.98,464.27 L522.30,464.44 L523.62,464.60 L524.94,464.76 L526.26,464.91 L527.58,465.05 L528.90,465.19 L530.22,465.32 L531.54,465.45 L532.86,465.57 L534.18,465.69 L535.50,465.81 L536.82,465.91 L538.13,466.02 L539.45,466.12 L540.77,466.22 L542.09,466.31 L543.41,466.40 L544.73,466.49 L546.05,466.58 L547.37,466.66 L548.69,466.73 L550.01,466.81 L551.33,466.88 L552.65,466.95 L553.97,467.02 L555.29,467.08 L556.61,467.14 L557.93,467.20 L559.25,467.26 L560.57,467.32 L561.89,467.37 L563.21,467.42 L564.53,467.47 L565.85,467.52 L567.17,467.57 L568.49,467.61 L569.81,467.66 L571.13,467.70 L572.45,467.74 L573.76,467.78 L575.08,467.82 L576.40,467.86 L577.72,467.90 L579.04,467.93 L580.36,467.97 L581.68,468.00 L583.00,468.04 L584.32,468.07 L585.64,468.10 L586.96,468.14 L588.28,468.17 L589.60,468.20 L590.92,468.23 L592.24,468.26 L593.56,468.29 L594.88,468.32 L596.20,468.35 L597.52,468.38 L598.84,468.40 L600.16,468.43 L601.48,468.46 L602.80,468.49 L604.12,468.52 L605.44,468.54 L606.76,468.57 L608.08,468.60 L609.39,468.63 L610.71,468.65 L612.03,468.68 L613.35,468.71 L614.67,468.73 L615.99,468.76 L617.31,468.79 L618.63,468.81 L619.95,468.84 L621.27,468.87 L622.59,468.90 L623.91,468.92 L625.23,468.95 L626.55,468.98 L627.87,469.00 L629.19,469.03 L630.51,469.06 L631.83,469.08 L633.15,469.11 L634.47,469.14 L635.79,469.16 L637.11,469.19 L638.43,469.22 L639.75,469.24 L641.07,469.27 L642.39,469.29 L643.71,469.32 L645.03,469.35 L646.34,469.37 L647.66,469.40 L648.98,469.42 L650.30,469.45 L651.62,469.47 L652.94,469.50 L654.26,469.52 L655.58,469.55 L656.90,469.57 L658.22,469.59 L659.54,469.62 L660.86,469.64 L662.18,469.66 L663.50,469.69"/>
<path stroke="#edb120" d="M374.50,472.48 L375.82,472.32 L377.14,472.15 L378.46,471.95 L379.78,471.74 L381.10,471.49 L382.42,471.22 L383.74,470.91 L385.06,470.55 L386.38,470.15 L387.70,469.69 L389.02,469.17 L390.34,468.56 L391.66,467.88 L392.97,467.09 L394.29,466.18 L395.61,465.14 L396.93,463.94 L398.25,462.57 L399.57,460.99 L400.89,459.18 L402.21,457.10 L403.53,454.72 L404.85,452.00 L406.17,448.90 L407.49,445.36 L408.81,441.34 L410.13,436.79 L411.45,431.67 L412.77,425.92 L414.09,419.52 L415.41,412.43 L416.73,404.66 L418.05,396.23 L419.37,387.18 L420.69,377.64 L422.01,367.75 L423.33,357.73 L424.65,347.88 L425.97,338.54 L427.29,330.11 L428.61,323.01 L429.92,317.65 L431.24,314.37 L432.56,313.71 L433.88,316.03 L435.20,320.69 L436.52,327.40 L437.84,335.72 L439.16,345.12 L440.48,355.08 L441.80,365.13 L443.12,374.86 L444.44,384.00 L445.76,392.36 L447.08,399.86 L448.40,406.48 L449.72,412.25 L451.04,417.25 L452.36,421.55 L453.68,425.24 L455.00,428.42 L456.32,431.16 L457.64,433.52 L458.96,435.59 L460.28,437.40 L461.60,439.00 L462.92,440.44 L464.24,441.73 L465.55,442.90 L466.87,443.98 L468.19,444.98 L469.51,445.91 L470.83,446.79 L472.15,447.62 L473.47,448.40 L474.79,449.15 L476.11,449.87 L477.43,450.55 L478.75,451.21 L480.07,451.85 L481.39,452.46 L482.71,453.05 L484.03,453.62 L485.35,454.18 L486.67,454.71 L487.99,455.23 L489.31,455.73 L490.63,456.21 L491.95,456.68 L493.27,457.13 L494.59,457.57 L495.91,458.00 L497.23,458.41 L498.55,458.80 L499.87,459.19 L501.18,459.56 L502.50,459.91 L503.82,460.26 L505.14,460.59 L506.46,460.92 L507.78,461.23 L509.10,461.53 L510.42,461.82 L511.74,462.09 L513.06,462.36 L514.38,462.62 L515.70,462.87 L517.02,463.11 L518.34,463.34 L519.66,463.56 L520.98,463.78 L522.30,463.98 L523.62,464.18 L524.94,464.37 L526.26,464.55 L527.58,464.72 L528.90,464.89 L530.22,465.05 L531.54,465.20 L532.86,465.35 L534.18,465.49 L535.50,465.63 L536.82,465.76 L538.13,465.88 L539.45,466.00 L540.77,466.12 L542.09,466.23 L543.41,466.33 L544.73,466.43 L546.05,466.53 L547.37,466.62 L548.69,466.71 L550.01,466.79 L551.33,466.87 L552.65,466.95 L553.97,467.02 L555.29,467.10 L556.61,467.16 L557.93,467.23 L559.25,467.29 L560.57,467.35 L561.89,467.41 L563.21,467.47 L564.53,467.52 L565.85,467.57 L567.17,467.62 L568.49,467.67 L569.81,467.71 L571.13,467.76 L572.45,467.80 L573.76,467.84 L575.08,467.88 L576.40,467.92 L577.72,467.96 L579.04,467.99 L580.36,468.03 L581.68,468.06 L583.00,468.10 L584.32,468.13 L585.64,468.16 L586.96,468.19 L588.28,468.22 L589.60,468.25 L590.92,468.28 L592.24,468.31 L593.56,468.34 L594.88,468.37 L596.20,468.39 L597.52,468.42 L598.84,468.45 L600.16,468.47 L601.48,468.50 L602.80,468.52 L604.12,468.55 L605.44,468.57 L606.76,468.60 L608.08,468.63 L609.39,468.65 L610.71,468.68 L612.03,468.70 L613.35,468.73 L614.67,468.75 L615.99,468.78 L617.31,468.80 L618.63,468.83 L619.95,468.85 L621.27,468.88 L622.59,468.90 L623.91,468.93 L625.23,468.95 L626.55,468.98 L627.87,469.00 L629.19,469.03 L630.51,469.05 L631.83,469.08 L633.15,469.10 L634.47,469.13 L635.79,469.15 L637.11,469.18 L638.43,469.20 L639.75,469.23 L641.07,469.25 L642.39,469.28 L643.71,469.30 L645.03,469.33 L646.34,469.35 L647.66,469.38 L648.98,469.40 L650.30,469.43 L651.62,469.45 L652.94,469.48 L654.26,469.50 L655.58,469.52 L656.90,469.55 L658.22,469.57 L659.54,469.59 L660.86,469.62 L662.18,469.64 L663.50,469.66"/>
<path stroke="#000000" d="M374.50,472.74 L375.82,472.69 L377.14,472.64 L378.46,472.58 L379.78,472.51 L381.10,472.43 L382.42,472.34 L383.74,472.23 L385.06,472.11 L386.38,471.97 L387.70,471.81 L389.02,471.63 L390.34,471.41 L391.66,471.17 L392.97,470.88 L394.29,470.56 L395.61,470.18 L396.93,469.75 L398.25,469.25 L399.57,468.68 L400.89,468.02 L402.21,467.27 L403.53,466.40 L404.85,465.41 L406.17,464.28 L407.49,462.98 L408.81,461.50 L410.13,459.82 L411.45,457.91 L412.77,455.74 L414.09,453.30 L415.41,450.54 L416.73,447.45 L418.05,443.99 L419.37,440.15 L420.69,435.90 L422.01,431.23 L423.33,426.14 L424.65,420.61 L425.97,414.68 L427.29,408.38 L428.61,401.75 L429.92,394.88 L431.24,387.84 L432.56,380.77 L433.88,373.77 L435.20,367.02 L436.52,360.65 L437.84,354.84 L439.16,349.72 L440.48,345.45 L441.80,342.20 L443.12,340.09 L444.44,339.08 L445.76,339.17 L447.08,340.33 L448.40,342.49 L449.72,345.55 L451.04,349.40 L452.36,353.90 L453.68,358.92 L455.00,364.31 L456.32,369.94 L457.64,375.70 L458.96,381.47 L460.28,387.17 L461.60,392.72 L462.92,398.07 L464.24,403.17 L465.55,408.00 L466.87,412.53 L468.19,416.75 L469.51,420.68 L470.83,424.30 L472.15,427.64 L473.47,430.70 L474.79,433.49 L476.11,436.04 L477.43,438.37 L478.75,440.48 L480.07,442.40 L481.39,444.14 L482.71,445.73 L484.03,447.16 L485.35,448.47 L486.67,449.65 L487.99,450.73 L489.31,451.71 L490.63,452.60 L491.95,453.41 L493.27,454.16 L494.59,454.84 L495.91,455.46 L497.23,456.03 L498.55,456.56 L499.87,457.05 L501.18,457.50 L502.50,457.92 L503.82,458.32 L505.14,458.68 L506.46,459.02 L507.78,459.34 L509.10,459.65 L510.42,459.93 L511.74,460.20 L513.06,460.46 L514.38,460.70 L515.70,460.93 L517.02,461.15 L518.34,461.37 L519.66,461.57 L520.98,461.77 L522.30,461.96 L523.62,462.14 L524.94,462.32 L526.26,462.49 L527.58,462.65 L528.90,462.81 L530.22,462.97 L531.54,463.12 L532.86,463.27 L534.18,463.41 L535.50,463.55 L536.82,463.69 L538.13,463.82 L539.45,463.95 L540.77,464.08 L542.09,464.21 L543.41,464.33 L544.73,464.45 L546.05,464.57 L547.37,464.68 L548.69,464.79 L550.01,464.90 L551.33,465.01 L552.65,465.12 L553.97,465.22 L555.29,465.32 L556.61,465.42 L557.93,465.52 L559.25,465.61 L560.57,465.71 L561.89,465.80 L563.21,465.89 L564.53,465.98 L565.85,466.06 L567.17,466.15 L568.49,466.23 L569.81,466.31 L571.13,466.39 L572.45,466.47 L573.76,466.55 L575.08,466.62 L576.40,466.70 L577.72,466.77 L579.04,466.84 L580.36,466.91 L581.68,466.98 L583.00,467.05 L584.32,467.11 L585.64,467.18 L586.96,467.24 L588.28,467.30 L589.60,467.36 L590.92,467.42 L592.24,467.48 L593.56,467.54 L594.88,467.60 L596.20,467.66 L597.52,467.71 L598.84,467.77 L600.16,467.82 L601.48,467.87 L602.80,467.92 L604.12,467.98 L605.44,468.03 L606.76,468.08 L608.08,468.13 L609.39,468.17 L610.71,468.22 L612.03,468.27 L613.35,468.32 L614.67,468.36 L615.99,468.41 L617.31,468.45 L618.63,468.50 L619.95,468.54 L621.27,468.58 L622.59,468.63 L623.91,468.67 L625.23,468.71 L626.55,468.75 L627.87,468.79 L629.19,468.83 L630.51,468.87 L631.83,468.91 L633.15,468.95 L634.47,468.98 L635.79,469.02 L637.11,469.06 L638.43,469.10 L639.75,469.13 L641.07,469.17 L642.39,469.20 L643.71,469.24 L645.03,469.27 L646.34,469.31 L647.66,469.34 L648.98,469.37 L650.30,469.40 L651.62,469.44 L652.94,469.47 L654.26,469.50 L655.58,469.53 L656.90,469.56 L658.22,469.59 L659.54,469.62 L660.86,469.65 L662.18,469.68 L663.50,469.70"/>
<path stroke="#77ac30" d="M374.50,472.62 L375.82,472.59 L377.14,472.56 L378.46,472.52 L379.78,472.47 L381.10,472.42 L382.42,472.37 L383.74,472.31 L385.06,472.24 L386.38,472.16 L387.70,472.07 L389.02,471.97 L390.34,471.86 L391.66,471.73 L392.97,471.58 L394.29,471.41 L395.61,471.21 L396.93,470.99 L398.25,470.74 L399.57,470.45 L400.89,470.12 L402.21,469.75 L403.53,469.32 L404.85,468.83 L406.17,468.27 L407.49,467.63 L408.81,466.90 L410.13,466.07 L411.45,465.13 L412.77,464.05 L414.09,462.84 L415.41,461.46 L416.73,459.90 L418.05,458.15 L419.37,456.18 L420.69,453.97 L422.01,451.50 L423.33,448.76 L424.65,445.73 L425.97,442.39 L427.29,438.73 L428.61,434.75 L429.92,430.45 L431.24,425.84 L432.56,420.93 L433.88,415.76 L435.20,410.35 L436.52,404.77 L437.84,399.06 L439.16,393.29 L440.48,387.54 L441.80,382.07 L443.12,376.92 L444.44,372.07 L445.76,367.58 L447.08,363.53 L448.40,359.97 L449.72,356.96 L451.04,354.55 L452.36,352.76 L453.68,351.63 L455.00,351.16 L456.32,351.36 L457.64,352.23 L458.96,353.73 L460.28,355.85 L461.60,358.54 L462.92,361.76 L464.24,365.44 L465.55,369.53 L466.87,373.94 L468.19,378.61 L469.51,383.45 L470.83,388.39 L472.15,393.35 L473.47,398.27 L474.79,403.07 L476.11,407.72 L477.43,412.16 L478.75,416.37 L480.07,420.32 L481.39,424.00 L482.71,427.41 L484.03,430.54 L485.35,433.41 L486.67,436.02 L487.99,438.39 L489.31,440.54 L490.63,442.48 L491.95,444.22 L493.27,445.80 L494.59,447.22 L495.91,448.50 L497.23,449.65 L498.55,450.69 L499.87,451.63 L501.18,452.49 L502.50,453.26 L503.82,453.97 L505.14,454.62 L506.46,455.21 L507.78,455.76 L509.10,456.26 L510.42,456.73 L511.74,457.17 L513.06,457.57 L514.38,457.96 L515.70,458.32 L517.02,458.66 L518.34,458.98 L519.66,459.29 L520.98,459.58 L522.30,459.86 L523.62,460.13 L524.94,460.39 L526.26,460.64 L527.58,460.89 L528.90,461.12 L530.22,461.35 L531.54,461.57 L532.86,461.78 L534.18,461.99 L535.50,462.20 L536.82,462.39 L538.13,462.59 L539.45,462.78 L540.77,462.96 L542.09,463.14 L543.41,463.31 L544.73,463.49 L546.05,463.65 L547.37,463.82 L548.69,463.98 L550.01,464.13 L551.33,464.28 L552.65,464.43 L553.97,464.58 L555.29,464.72 L556.61,464.86 L557.93,464.99 L559.25,465.13 L560.57,465.26 L561.89,465.38 L563.21,465.50 L564.53,465.62 L565.85,465.74 L567.17,465.85 L568.49,465.97 L569.81,466.07 L571.13,466.18 L572.45,466.28 L573.76,466.38 L575.08,466.48 L576.40,466.57 L577.72,466.67 L579.04,466.76 L580.36,466.84 L581.68,466.93 L583.00,467.01 L584.32,467.09 L585.64,467.17 L586.96,467.25 L588.28,467.33 L589.60,467.40 L590.92,467.47 L592.24,467.54 L593.56,467.61 L594.88,467.67 L596.20,467.74 L597.52,467.80 L598.84,467.86 L600.16,467.92 L601.48,467.98 L602.80,468.03 L604.12,468.09 L605.44,468.14 L606.76,468.19 L608.08,468.25 L609.39,468.30 L610.71,468.35 L612.03,468.39 L613.35,468.44 L614.67,468.49 L615.99,468.53 L617.31,468.57 L618.63,468.62 L619.95,468.66 L621.27,468.70 L622.59,468.74 L623.91,468.78 L625.23,468.81 L626.55,468.85 L627.87,468.89 L629.19,468.92 L630.51,468.95 L631.83,468.99 L633.15,469.02 L634.47,469.05 L635.79,469.08 L637.11,469.11 L638.43,469.14 L639.75,469.17 L641.07,469.20 L642.39,469.22 L643.71,469.25 L645.03,469.28 L646.34,469.30 L647.66,469.33 L648.98,469.35 L650.30,469.37 L651.62,469.39 L652.94,469.42 L654.26,469.44 L655.58,469.46 L656.90,469.48 L658.22,469.50 L659.54,469.51 L660.86,469.53 L662.18,469.55 L663.50,469.57"/>
</g>
<path d="M374.50,473.10V470.20M374.50,283.30V286.20M403.40,473.10V470.20M403.40,283.30V286.20M432.30,473.10V470.20M432.30,283.30V286.20M461.20,473.10V470.20M461.20,283.30V286.20M490.10,473.10V470.20M490.10,283.30V286.20M519.00,473.10V470.20M519.00,283.30V286.20M547.90,473.10V470.20M547.90,283.30V286.20M576.80,473.10V470.20M576.80,283.30V286.20M605.70,473.10V470.20M605.70,283.30V286.20M634.60,473.10V470.20M634.60,283.30V286.20M663.50,473.10V470.20M663.50,283.30V286.20M374.50,473.10H377.40M663.50,473.10H660.60M374.50,435.14H377.40M663.50,435.14H660.60M374.50,397.18H377.40M663.50,397.18H660.60M374.50,359.22H377.40M663.50,359.22H660.60M374.50,321.26H377.40M663.50,321.26H660.60M374.50,283.30H377.40M663.50,283.30H660.60" stroke="#404040" stroke-width="0.9" fill="none"/>
<rect x="374.50" y="283.30" width="289.00" height="189.80" fill="none" stroke="#404040" stroke-width="1"/>
<g font-family='"Liberation Sans", sans-serif' font-size="5.1" fill="#262626" stroke="#262626" stroke-width="0.12"><text x="374.50" y="481.10" text-anchor="middle">0</text><text x="403.40" y="481.10" text-anchor="middle">50</text><text x="432.30" y="481.10" text-anchor="middle">100</text><text x="461.20" y="481.10" text-anchor="middle">150</text><text x="490.10" y="481.10" text-anchor="middle">200</text><text x="519.00" y="481.10" text-anchor="middle">250</text><text x="547.90" y="481.10" text-anchor="middle">300</text><text x="576.80" y="481.10" text-anchor="middle">350</text><text x="605.70" y="481.10" text-anchor="middle">400</text><text x="634.60" y="481.10" text-anchor="middle">450</text><text x="663.50" y="481.10" text-anchor="middle">500</text><text x="371.90" y="475.70" text-anchor="end">0</text><text x="371.90" y="437.74" text-anchor="end">0.5</text><text x="371.90" y="399.78" text-anchor="end">1</text><text x="371.90" y="361.82" text-anchor="end">1.5</text><text x="371.90" y="323.86" text-anchor="end">2</text><text x="371.90" y="285.90" text-anchor="end">2.5</text></g>
<text x="374.80" y="282.00" font-family='"Liberation Sans", sans-serif' font-size="5.4" fill="#262626" stroke="#262626" stroke-width="0.12">&#215; 10<tspan font-size="3.8" dy="-2.2">4</tspan></text>
<text x="519.00" y="279.30" text-anchor="middle" font-family='"Liberation Sans", sans-serif' font-size="10.3" font-weight="bold" fill="#000"><tspan font-family='"Liberation Serif", serif' font-style="italic" font-weight="normal" font-size="11">&#977;</tspan><tspan dx="0.8">=0.90</tspan></text>
<text x="519.00" y="494.20" text-anchor="middle" font-family='"Liberation Sans", sans-serif' font-size="10.5" fill="#111" stroke="#111" stroke-width="0.25">Time in Days</text>
<text transform="translate(357.00,378.00) rotate(-90)" text-anchor="middle" font-family='"Liberation Sans", sans-serif' font-size="10.5" fill="#111" stroke="#111" stroke-width="0.25">Exposed non-human class E<tspan font-size="7.56" dy="4.41">r</tspan></text>
<rect x="547.70" y="288.60" width="111.50" height="43.50" fill="#fff" stroke="#6a6a6a" stroke-width="1"/>
<line x1="551.10" y1="293.80" x2="566.80" y2="293.80" stroke="#0000ff" stroke-width="1.45"/>
<text x="568.40" y="295.89" font-family='"Liberation Sans", sans-serif' font-size="5.8" fill="#262626" stroke="#262626" stroke-width="0.12">Baseline values of <tspan font-family='"Liberation Serif", serif' font-style="italic" font-size="6.96">&#946;</tspan><tspan font-size="4.06" dy="2.90" dx="0.3">1</tspan><tspan dy="-2.90" dx="0.3">, </tspan><tspan font-family='"Liberation Serif", serif' font-style="italic" font-size="6.96">&#946;</tspan><tspan font-size="4.06" dy="2.90" dx="0.3">2</tspan><tspan dy="-2.90" dx="0.3">, </tspan><tspan font-family='"Liberation Serif", serif' font-style="italic" font-size="6.96">&#946;</tspan><tspan font-size="4.06" dy="2.90" dx="0.3">3</tspan></text>
<line x1="551.10" y1="304.00" x2="566.80" y2="304.00" stroke="#ff0000" stroke-width="1.45"/>
<text x="568.40" y="306.09" font-family='"Liberation Sans", sans-serif' font-size="5.8" fill="#262626" stroke="#262626" stroke-width="0.12">with 10% increase in contact rates</text>
<line x1="551.10" y1="311.20" x2="566.80" y2="311.20" stroke="#edb120" stroke-width="1.45"/>
<text x="568.40" y="313.29" font-family='"Liberation Sans", sans-serif' font-size="5.8" fill="#262626" stroke="#262626" stroke-width="0.12">with 20% increase in contact rates</text>
<line x1="551.10" y1="319.70" x2="566.80" y2="319.70" stroke="#000000" stroke-width="1.45"/>
<text x="568.40" y="321.79" font-family='"Liberation Sans", sans-serif' font-size="5.8" fill="#262626" stroke="#262626" stroke-width="0.12">with 40% increase in contact rates</text>
<line x1="551.10" y1="327.30" x2="566.80" y2="327.30" stroke="#77ac30" stroke-width="1.45"/>
<text x="568.40" y="329.39" font-family='"Liberation Sans", sans-serif' font-size="5.8" fill="#262626" stroke="#262626" stroke-width="0.12">with 50% increase in contact rates</text>
<text x="510.00" y="515.00" text-anchor="middle" font-family='"Liberation Serif", serif' font-size="15" fill="#111">(d)</text>
<g stroke="#e8e8e8" stroke-width="0.8"><line x1="224.92" y1="542.80" x2="224.92" y2="733.00"/><line x1="253.84" y1="542.80" x2="253.84" y2="733.00"/><line x1="282.76" y1="542.80" x2="282.76" y2="733.00"/><line x1="311.68" y1="542.80" x2="311.68" y2="733.00"/><line x1="340.60" y1="542.80" x2="340.60" y2="733.00"/><line x1="369.52" y1="542.80" x2="369.52" y2="733.00"/><line x1="398.44" y1="542.80" x2="398.44" y2="733.00"/><line x1="427.36" y1="542.80" x2="427.36" y2="733.00"/><line x1="456.28" y1="542.80" x2="456.28" y2="733.00"/><line x1="196.00" y1="711.87" x2="485.20" y2="711.87"/><line x1="196.00" y1="690.73" x2="485.20" y2="690.73"/><line x1="196.00" y1="669.60" x2="485.20" y2="669.60"/><line x1="196.00" y1="648.47" x2="485.20" y2="648.47"/><line x1="196.00" y1="627.33" x2="485.20" y2="627.33"/><line x1="196.00" y1="606.20" x2="485.20" y2="606.20"/><line x1="196.00" y1="585.07" x2="485.20" y2="585.07"/><line x1="196.00" y1="563.93" x2="485.20" y2="563.93"/></g>
<clipPath id="ce"><rect x="196.00" y="542.80" width="289.20" height="190.20"/></clipPath>
<g clip-path="url(#ce)" fill="none" stroke-width="1.25" stroke-linejoin="round">
<path stroke="#0000ff" d="M196.00,733.05 L197.32,733.05 L198.64,733.05 L199.96,733.05 L201.28,733.04 L202.60,733.03 L203.92,733.01 L205.24,732.99 L206.56,732.95 L207.88,732.90 L209.21,732.84 L210.53,732.75 L211.85,732.64 L213.17,732.49 L214.49,732.30 L215.81,732.05 L217.13,731.74 L218.45,731.33 L219.77,730.80 L221.09,730.13 L222.41,729.27 L223.73,728.18 L225.05,726.79 L226.37,725.03 L227.69,722.82 L229.01,720.06 L230.33,716.64 L231.65,712.45 L232.98,707.39 L234.30,701.42 L235.62,694.53 L236.94,686.78 L238.26,678.32 L239.58,669.37 L240.90,660.18 L242.22,651.00 L243.54,642.04 L244.86,633.48 L246.18,625.42 L247.50,617.92 L248.82,611.02 L250.14,604.70 L251.46,598.96 L252.78,593.74 L254.10,589.03 L255.42,584.77 L256.75,580.93 L258.07,577.47 L259.39,574.36 L260.71,571.56 L262.03,569.04 L263.35,566.78 L264.67,564.74 L265.99,562.92 L267.31,561.27 L268.63,559.80 L269.95,558.47 L271.27,557.29 L272.59,556.22 L273.91,555.26 L275.23,554.40 L276.55,553.63 L277.87,552.94 L279.19,552.31 L280.52,551.76 L281.84,551.26 L283.16,550.81 L284.48,550.40 L285.80,550.04 L287.12,549.72 L288.44,549.43 L289.76,549.17 L291.08,548.93 L292.40,548.72 L293.72,548.53 L295.04,548.36 L296.36,548.20 L297.68,548.07 L299.00,547.94 L300.32,547.82 L301.64,547.72 L302.96,547.63 L304.28,547.54 L305.61,547.46 L306.93,547.39 L308.25,547.32 L309.57,547.26 L310.89,547.20 L312.21,547.14 L313.53,547.09 L314.85,547.05 L316.17,547.00 L317.49,546.96 L318.81,546.92 L320.13,546.88 L321.45,546.84 L322.77,546.80 L324.09,546.77 L325.41,546.73 L326.73,546.70 L328.05,546.66 L329.38,546.63 L330.70,546.60 L332.02,546.57 L333.34,546.54 L334.66,546.51 L335.98,546.48 L337.30,546.45 L338.62,546.42 L339.94,546.39 L341.26,546.36 L342.58,546.33 L343.90,546.31 L345.22,546.28 L346.54,546.25 L347.86,546.22 L349.18,546.20 L350.50,546.17 L351.82,546.14 L353.15,546.12 L354.47,546.09 L355.79,546.07 L357.11,546.04 L358.43,546.02 L359.75,545.99 L361.07,545.97 L362.39,545.94 L363.71,545.92 L365.03,545.89 L366.35,545.87 L367.67,545.85 L368.99,545.83 L370.31,545.80 L371.63,545.78 L372.95,545.76 L374.27,545.74 L375.59,545.72 L376.92,545.70 L378.24,545.68 L379.56,545.66 L380.88,545.64 L382.20,545.62 L383.52,545.60 L384.84,545.59 L386.16,545.57 L387.48,545.55 L388.80,545.54 L390.12,545.52 L391.44,545.51 L392.76,545.49 L394.08,545.48 L395.40,545.46 L396.72,545.45 L398.04,545.43 L399.36,545.42 L400.68,545.41 L402.01,545.40 L403.33,545.38 L404.65,545.37 L405.97,545.36 L407.29,545.35 L408.61,545.34 L409.93,545.33 L411.25,545.32 L412.57,545.31 L413.89,545.30 L415.21,545.29 L416.53,545.29 L417.85,545.28 L419.17,545.27 L420.49,545.26 L421.81,545.26 L423.13,545.25 L424.45,545.24 L425.78,545.24 L427.10,545.23 L428.42,545.22 L429.74,545.22 L431.06,545.21 L432.38,545.21 L433.70,545.20 L435.02,545.20 L436.34,545.19 L437.66,545.19 L438.98,545.19 L440.30,545.18 L441.62,545.18 L442.94,545.18 L444.26,545.17 L445.58,545.17 L446.90,545.17 L448.22,545.16 L449.55,545.16 L450.87,545.16 L452.19,545.16 L453.51,545.16 L454.83,545.15 L456.15,545.15 L457.47,545.15 L458.79,545.15 L460.11,545.15 L461.43,545.15 L462.75,545.15 L464.07,545.14 L465.39,545.14 L466.71,545.14 L468.03,545.14 L469.35,545.14 L470.67,545.14 L471.99,545.14 L473.32,545.14 L474.64,545.14 L475.96,545.14 L477.28,545.14 L478.60,545.14 L479.92,545.14 L481.24,545.14 L482.56,545.14 L483.88,545.14 L485.20,545.14"/>
<path stroke="#ff0000" d="M196.00,733.12 L197.32,733.12 L198.64,733.12 L199.96,733.12 L201.28,733.11 L202.60,733.10 L203.92,733.08 L205.24,733.05 L206.56,733.01 L207.88,732.95 L209.21,732.89 L210.53,732.80 L211.85,732.69 L213.17,732.54 L214.49,732.36 L215.81,732.14 L217.13,731.85 L218.45,731.50 L219.77,731.05 L221.09,730.50 L222.41,729.81 L223.73,728.96 L225.05,727.90 L226.37,726.60 L227.69,724.99 L229.01,723.02 L230.33,720.61 L231.65,717.68 L232.98,714.17 L234.30,709.98 L235.62,705.06 L236.94,699.36 L238.26,692.91 L239.58,685.74 L240.90,677.97 L242.22,669.76 L243.54,661.30 L244.86,652.78 L246.18,644.38 L247.50,636.25 L248.82,628.51 L250.14,621.23 L251.46,614.45 L252.78,608.18 L254.10,602.42 L255.42,597.15 L256.75,592.35 L258.07,587.98 L259.39,584.01 L260.71,580.42 L262.03,577.16 L263.35,574.22 L264.67,571.55 L265.99,569.15 L267.31,566.97 L268.63,565.00 L269.95,563.23 L271.27,561.63 L272.59,560.18 L273.91,558.88 L275.23,557.70 L276.55,556.64 L277.87,555.68 L279.19,554.81 L280.52,554.03 L281.84,553.33 L283.16,552.69 L284.48,552.12 L285.80,551.61 L287.12,551.14 L288.44,550.72 L289.76,550.34 L291.08,550.00 L292.40,549.69 L293.72,549.41 L295.04,549.16 L296.36,548.93 L297.68,548.73 L299.00,548.54 L300.32,548.37 L301.64,548.22 L302.96,548.08 L304.28,547.95 L305.61,547.83 L306.93,547.73 L308.25,547.63 L309.57,547.54 L310.89,547.46 L312.21,547.38 L313.53,547.31 L314.85,547.24 L316.17,547.18 L317.49,547.12 L318.81,547.07 L320.13,547.02 L321.45,546.97 L322.77,546.93 L324.09,546.88 L325.41,546.84 L326.73,546.80 L328.05,546.76 L329.38,546.72 L330.70,546.69 L332.02,546.65 L333.34,546.62 L334.66,546.59 L335.98,546.56 L337.30,546.52 L338.62,546.49 L339.94,546.46 L341.26,546.43 L342.58,546.41 L343.90,546.38 L345.22,546.35 L346.54,546.32 L347.86,546.30 L349.18,546.27 L350.50,546.24 L351.82,546.22 L353.15,546.19 L354.47,546.17 L355.79,546.14 L357.11,546.12 L358.43,546.09 L359.75,546.07 L361.07,546.04 L362.39,546.02 L363.71,546.00 L365.03,545.98 L366.35,545.95 L367.67,545.93 L368.99,545.91 L370.31,545.89 L371.63,545.87 L372.95,545.85 L374.27,545.83 L375.59,545.81 L376.92,545.79 L378.24,545.77 L379.56,545.75 L380.88,545.73 L382.20,545.71 L383.52,545.69 L384.84,545.68 L386.16,545.66 L387.48,545.64 L388.80,545.63 L390.12,545.61 L391.44,545.60 L392.76,545.58 L394.08,545.57 L395.40,545.55 L396.72,545.54 L398.04,545.53 L399.36,545.51 L400.68,545.50 L402.01,545.49 L403.33,545.48 L404.65,545.46 L405.97,545.45 L407.29,545.44 L408.61,545.43 L409.93,545.42 L411.25,545.41 L412.57,545.40 L413.89,545.39 L415.21,545.38 L416.53,545.37 L417.85,545.36 L419.17,545.35 L420.49,545.34 L421.81,545.34 L423.13,545.33 L424.45,545.32 L425.78,545.31 L427.10,545.31 L428.42,545.30 L429.74,545.29 L431.06,545.29 L432.38,545.28 L433.70,545.27 L435.02,545.27 L436.34,545.26 L437.66,545.26 L438.98,545.25 L440.30,545.25 L441.62,545.24 L442.94,545.24 L444.26,545.23 L445.58,545.23 L446.90,545.22 L448.22,545.22 L449.55,545.22 L450.87,545.21 L452.19,545.21 L453.51,545.21 L454.83,545.20 L456.15,545.20 L457.47,545.20 L458.79,545.19 L460.11,545.19 L461.43,545.19 L462.75,545.18 L464.07,545.18 L465.39,545.18 L466.71,545.18 L468.03,545.17 L469.35,545.17 L470.67,545.17 L471.99,545.17 L473.32,545.16 L474.64,545.16 L475.96,545.16 L477.28,545.16 L478.60,545.16 L479.92,545.15 L481.24,545.15 L482.56,545.15 L483.88,545.15 L485.20,545.15"/>
<path stroke="#edb120" d="M196.00,732.92 L197.32,732.91 L198.64,732.91 L199.96,732.90 L201.28,732.89 L202.60,732.87 L203.92,732.85 L205.24,732.83 L206.56,732.79 L207.88,732.75 L209.21,732.71 L210.53,732.64 L211.85,732.57 L213.17,732.47 L214.49,732.35 L215.81,732.21 L217.13,732.03 L218.45,731.80 L219.77,731.53 L221.09,731.19 L222.41,730.77 L223.73,730.25 L225.05,729.61 L226.37,728.83 L227.69,727.87 L229.01,726.69 L230.33,725.25 L231.65,723.50 L232.98,721.37 L234.30,718.80 L235.62,715.73 L236.94,712.07 L238.26,707.78 L239.58,702.82 L240.90,697.16 L242.22,690.82 L243.54,683.89 L244.86,676.46 L246.18,668.68 L247.50,660.71 L248.82,652.73 L250.14,644.86 L251.46,637.24 L252.78,629.96 L254.10,623.08 L255.42,616.63 L256.75,610.63 L258.07,605.08 L259.39,599.96 L260.71,595.26 L262.03,590.94 L263.35,587.00 L264.67,583.39 L265.99,580.09 L267.31,577.09 L268.63,574.35 L269.95,571.85 L271.27,569.57 L272.59,567.50 L273.91,565.61 L275.23,563.90 L276.55,562.33 L277.87,560.91 L279.19,559.61 L280.52,558.43 L281.84,557.36 L283.16,556.38 L284.48,555.49 L285.80,554.68 L287.12,553.95 L288.44,553.28 L289.76,552.67 L291.08,552.12 L292.40,551.61 L293.72,551.16 L295.04,550.74 L296.36,550.36 L297.68,550.01 L299.00,549.70 L300.32,549.41 L301.64,549.15 L302.96,548.91 L304.28,548.70 L305.61,548.50 L306.93,548.32 L308.25,548.15 L309.57,548.00 L310.89,547.86 L312.21,547.73 L313.53,547.61 L314.85,547.51 L316.17,547.41 L317.49,547.32 L318.81,547.23 L320.13,547.15 L321.45,547.08 L322.77,547.02 L324.09,546.95 L325.41,546.90 L326.73,546.84 L328.05,546.79 L329.38,546.74 L330.70,546.70 L332.02,546.66 L333.34,546.62 L334.66,546.58 L335.98,546.54 L337.30,546.51 L338.62,546.48 L339.94,546.44 L341.26,546.41 L342.58,546.39 L343.90,546.36 L345.22,546.33 L346.54,546.31 L347.86,546.28 L349.18,546.26 L350.50,546.23 L351.82,546.21 L353.15,546.19 L354.47,546.17 L355.79,546.14 L357.11,546.12 L358.43,546.10 L359.75,546.08 L361.07,546.06 L362.39,546.04 L363.71,546.02 L365.03,546.00 L366.35,545.99 L367.67,545.97 L368.99,545.95 L370.31,545.93 L371.63,545.92 L372.95,545.90 L374.27,545.88 L375.59,545.87 L376.92,545.85 L378.24,545.83 L379.56,545.82 L380.88,545.80 L382.20,545.79 L383.52,545.77 L384.84,545.76 L386.16,545.74 L387.48,545.73 L388.80,545.72 L390.12,545.70 L391.44,545.69 L392.76,545.68 L394.08,545.67 L395.40,545.65 L396.72,545.64 L398.04,545.63 L399.36,545.62 L400.68,545.61 L402.01,545.59 L403.33,545.58 L404.65,545.57 L405.97,545.56 L407.29,545.55 L408.61,545.54 L409.93,545.53 L411.25,545.52 L412.57,545.51 L413.89,545.50 L415.21,545.49 L416.53,545.49 L417.85,545.48 L419.17,545.47 L420.49,545.46 L421.81,545.45 L423.13,545.44 L424.45,545.43 L425.78,545.43 L427.10,545.42 L428.42,545.41 L429.74,545.40 L431.06,545.40 L432.38,545.39 L433.70,545.38 L435.02,545.37 L436.34,545.37 L437.66,545.36 L438.98,545.35 L440.30,545.35 L441.62,545.34 L442.94,545.34 L444.26,545.33 L445.58,545.32 L446.90,545.32 L448.22,545.31 L449.55,545.30 L450.87,545.30 L452.19,545.29 L453.51,545.29 L454.83,545.28 L456.15,545.28 L457.47,545.27 L458.79,545.27 L460.11,545.26 L461.43,545.26 L462.75,545.25 L464.07,545.24 L465.39,545.24 L466.71,545.23 L468.03,545.23 L469.35,545.22 L470.67,545.22 L471.99,545.22 L473.32,545.21 L474.64,545.21 L475.96,545.20 L477.28,545.20 L478.60,545.19 L479.92,545.19 L481.24,545.18 L482.56,545.18 L483.88,545.17 L485.20,545.17"/>
<path stroke="#000000" d="M196.00,733.08 L197.32,733.07 L198.64,733.05 L199.96,733.04 L201.28,733.01 L202.60,732.99 L203.92,732.96 L205.24,732.92 L206.56,732.88 L207.88,732.83 L209.21,732.77 L210.53,732.70 L211.85,732.61 L213.17,732.51 L214.49,732.40 L215.81,732.27 L217.13,732.11 L218.45,731.93 L219.77,731.72 L221.09,731.47 L222.41,731.19 L223.73,730.86 L225.05,730.48 L226.37,730.04 L227.69,729.53 L229.01,728.94 L230.33,728.26 L231.65,727.47 L232.98,726.56 L234.30,725.52 L235.62,724.32 L236.94,722.93 L238.26,721.35 L239.58,719.53 L240.90,717.47 L242.22,715.11 L243.54,712.45 L244.86,709.45 L246.18,706.09 L247.50,702.35 L248.82,698.21 L250.14,693.69 L251.46,688.79 L252.78,683.54 L254.10,677.98 L255.42,672.16 L256.75,666.14 L258.07,659.99 L259.39,653.80 L260.71,647.62 L262.03,641.53 L263.35,635.58 L264.67,629.81 L265.99,624.28 L267.31,618.99 L268.63,613.98 L269.95,609.24 L271.27,604.78 L272.59,600.59 L273.91,596.68 L275.23,593.03 L276.55,589.63 L277.87,586.46 L279.19,583.52 L280.52,580.80 L281.84,578.27 L283.16,575.92 L284.48,573.75 L285.80,571.74 L287.12,569.88 L288.44,568.16 L289.76,566.57 L291.08,565.10 L292.40,563.74 L293.72,562.48 L295.04,561.32 L296.36,560.24 L297.68,559.25 L299.00,558.33 L300.32,557.48 L301.64,556.70 L302.96,555.97 L304.28,555.30 L305.61,554.69 L306.93,554.11 L308.25,553.59 L309.57,553.10 L310.89,552.64 L312.21,552.22 L313.53,551.84 L314.85,551.48 L316.17,551.14 L317.49,550.84 L318.81,550.55 L320.13,550.28 L321.45,550.04 L322.77,549.81 L324.09,549.60 L325.41,549.40 L326.73,549.22 L328.05,549.04 L329.38,548.88 L330.70,548.73 L332.02,548.60 L333.34,548.46 L334.66,548.34 L335.98,548.23 L337.30,548.12 L338.62,548.02 L339.94,547.92 L341.26,547.83 L342.58,547.75 L343.90,547.67 L345.22,547.59 L346.54,547.52 L347.86,547.45 L349.18,547.39 L350.50,547.32 L351.82,547.26 L353.15,547.21 L354.47,547.15 L355.79,547.10 L357.11,547.05 L358.43,547.00 L359.75,546.96 L361.07,546.91 L362.39,546.87 L363.71,546.83 L365.03,546.79 L366.35,546.75 L367.67,546.71 L368.99,546.67 L370.31,546.64 L371.63,546.60 L372.95,546.57 L374.27,546.54 L375.59,546.50 L376.92,546.47 L378.24,546.44 L379.56,546.41 L380.88,546.39 L382.20,546.36 L383.52,546.33 L384.84,546.31 L386.16,546.28 L387.48,546.26 L388.80,546.23 L390.12,546.21 L391.44,546.19 L392.76,546.16 L394.08,546.14 L395.40,546.12 L396.72,546.10 L398.04,546.08 L399.36,546.06 L400.68,546.04 L402.01,546.02 L403.33,546.00 L404.65,545.98 L405.97,545.97 L407.29,545.95 L408.61,545.93 L409.93,545.92 L411.25,545.90 L412.57,545.88 L413.89,545.87 L415.21,545.85 L416.53,545.84 L417.85,545.82 L419.17,545.81 L420.49,545.79 L421.81,545.78 L423.13,545.76 L424.45,545.75 L425.78,545.74 L427.10,545.72 L428.42,545.71 L429.74,545.70 L431.06,545.68 L432.38,545.67 L433.70,545.66 L435.02,545.65 L436.34,545.63 L437.66,545.62 L438.98,545.61 L440.30,545.60 L441.62,545.59 L442.94,545.58 L444.26,545.56 L445.58,545.55 L446.90,545.54 L448.22,545.53 L449.55,545.52 L450.87,545.51 L452.19,545.50 L453.51,545.49 L454.83,545.48 L456.15,545.47 L457.47,545.46 L458.79,545.45 L460.11,545.44 L461.43,545.43 L462.75,545.42 L464.07,545.41 L465.39,545.40 L466.71,545.39 L468.03,545.38 L469.35,545.37 L470.67,545.36 L471.99,545.35 L473.32,545.34 L474.64,545.33 L475.96,545.32 L477.28,545.32 L478.60,545.31 L479.92,545.30 L481.24,545.29 L482.56,545.28 L483.88,545.27 L485.20,545.26"/>
<path stroke="#77ac30" d="M196.00,732.96 L197.32,732.94 L198.64,732.93 L199.96,732.90 L201.28,732.88 L202.60,732.86 L203.92,732.83 L205.24,732.79 L206.56,732.76 L207.88,732.72 L209.21,732.67 L210.53,732.62 L211.85,732.56 L213.17,732.49 L214.49,732.42 L215.81,732.33 L217.13,732.24 L218.45,732.13 L219.77,732.01 L221.09,731.87 L222.41,731.71 L223.73,731.54 L225.05,731.33 L226.37,731.11 L227.69,730.85 L229.01,730.56 L230.33,730.23 L231.65,729.86 L232.98,729.43 L234.30,728.96 L235.62,728.41 L236.94,727.80 L238.26,727.11 L239.58,726.33 L240.90,725.44 L242.22,724.44 L243.54,723.31 L244.86,722.04 L246.18,720.61 L247.50,719.00 L248.82,717.19 L250.14,715.17 L251.46,712.91 L252.78,710.39 L254.10,707.61 L255.42,704.53 L256.75,701.15 L258.07,697.46 L259.39,693.45 L260.71,689.14 L262.03,684.53 L263.35,679.66 L264.67,674.54 L265.99,669.22 L267.31,663.75 L268.63,658.18 L269.95,652.56 L271.27,646.94 L272.59,641.39 L273.91,635.93 L275.23,630.62 L276.55,625.48 L277.87,620.53 L279.19,615.81 L280.52,611.31 L281.84,607.04 L283.16,603.01 L284.48,599.22 L285.80,595.65 L287.12,592.31 L288.44,589.18 L289.76,586.26 L291.08,583.53 L292.40,580.98 L293.72,578.61 L295.04,576.41 L296.36,574.35 L297.68,572.44 L299.00,570.67 L300.32,569.02 L301.64,567.49 L302.96,566.07 L304.28,564.74 L305.61,563.52 L306.93,562.38 L308.25,561.32 L309.57,560.34 L310.89,559.43 L312.21,558.59 L313.53,557.80 L314.85,557.07 L316.17,556.40 L317.49,555.77 L318.81,555.19 L320.13,554.65 L321.45,554.14 L322.77,553.68 L324.09,553.24 L325.41,552.84 L326.73,552.46 L328.05,552.11 L329.38,551.79 L330.70,551.49 L332.02,551.20 L333.34,550.94 L334.66,550.69 L335.98,550.46 L337.30,550.25 L338.62,550.05 L339.94,549.86 L341.26,549.68 L342.58,549.52 L343.90,549.36 L345.22,549.22 L346.54,549.08 L347.86,548.95 L349.18,548.83 L350.50,548.71 L351.82,548.60 L353.15,548.50 L354.47,548.40 L355.79,548.30 L357.11,548.21 L358.43,548.13 L359.75,548.05 L361.07,547.97 L362.39,547.89 L363.71,547.82 L365.03,547.75 L366.35,547.69 L367.67,547.62 L368.99,547.56 L370.31,547.51 L371.63,547.45 L372.95,547.40 L374.27,547.34 L375.59,547.29 L376.92,547.25 L378.24,547.20 L379.56,547.15 L380.88,547.11 L382.20,547.07 L383.52,547.03 L384.84,546.99 L386.16,546.95 L387.48,546.91 L388.80,546.88 L390.12,546.84 L391.44,546.81 L392.76,546.77 L394.08,546.74 L395.40,546.71 L396.72,546.68 L398.04,546.65 L399.36,546.62 L400.68,546.59 L402.01,546.56 L403.33,546.53 L404.65,546.50 L405.97,546.48 L407.29,546.45 L408.61,546.43 L409.93,546.40 L411.25,546.37 L412.57,546.35 L413.89,546.33 L415.21,546.30 L416.53,546.28 L417.85,546.26 L419.17,546.23 L420.49,546.21 L421.81,546.19 L423.13,546.16 L424.45,546.14 L425.78,546.12 L427.10,546.10 L428.42,546.08 L429.74,546.06 L431.06,546.04 L432.38,546.02 L433.70,546.00 L435.02,545.97 L436.34,545.95 L437.66,545.93 L438.98,545.91 L440.30,545.89 L441.62,545.88 L442.94,545.86 L444.26,545.84 L445.58,545.82 L446.90,545.80 L448.22,545.78 L449.55,545.76 L450.87,545.74 L452.19,545.72 L453.51,545.70 L454.83,545.69 L456.15,545.67 L457.47,545.65 L458.79,545.63 L460.11,545.61 L461.43,545.59 L462.75,545.58 L464.07,545.56 L465.39,545.54 L466.71,545.52 L468.03,545.50 L469.35,545.49 L470.67,545.47 L471.99,545.45 L473.32,545.43 L474.64,545.41 L475.96,545.40 L477.28,545.38 L478.60,545.36 L479.92,545.34 L481.24,545.33 L482.56,545.31 L483.88,545.29 L485.20,545.27"/>
</g>
<path d="M196.00,733.00V730.10M196.00,542.80V545.70M224.92,733.00V730.10M224.92,542.80V545.70M253.84,733.00V730.10M253.84,542.80V545.70M282.76,733.00V730.10M282.76,542.80V545.70M311.68,733.00V730.10M311.68,542.80V545.70M340.60,733.00V730.10M340.60,542.80V545.70M369.52,733.00V730.10M369.52,542.80V545.70M398.44,733.00V730.10M398.44,542.80V545.70M427.36,733.00V730.10M427.36,542.80V545.70M456.28,733.00V730.10M456.28,542.80V545.70M485.20,733.00V730.10M485.20,542.80V545.70M196.00,733.00H198.90M485.20,733.00H482.30M196.00,711.87H198.90M485.20,711.87H482.30M196.00,690.73H198.90M485.20,690.73H482.30M196.00,669.60H198.90M485.20,669.60H482.30M196.00,648.47H198.90M485.20,648.47H482.30M196.00,627.33H198.90M485.20,627.33H482.30M196.00,606.20H198.90M485.20,606.20H482.30M196.00,585.07H198.90M485.20,585.07H482.30M196.00,563.93H198.90M485.20,563.93H482.30M196.00,542.80H198.90M485.20,542.80H482.30" stroke="#404040" stroke-width="0.9" fill="none"/>
<rect x="196.00" y="542.80" width="289.20" height="190.20" fill="none" stroke="#404040" stroke-width="1"/>
<g font-family='"Liberation Sans", sans-serif' font-size="5.1" fill="#262626" stroke="#262626" stroke-width="0.12"><text x="196.00" y="741.00" text-anchor="middle">0</text><text x="224.92" y="741.00" text-anchor="middle">50</text><text x="253.84" y="741.00" text-anchor="middle">100</text><text x="282.76" y="741.00" text-anchor="middle">150</text><text x="311.68" y="741.00" text-anchor="middle">200</text><text x="340.60" y="741.00" text-anchor="middle">250</text><text x="369.52" y="741.00" text-anchor="middle">300</text><text x="398.44" y="741.00" text-anchor="middle">350</text><text x="427.36" y="741.00" text-anchor="middle">400</text><text x="456.28" y="741.00" text-anchor="middle">450</text><text x="485.20" y="741.00" text-anchor="middle">500</text><text x="193.40" y="735.60" text-anchor="end">0</text><text x="193.40" y="714.47" text-anchor="end">1</text><text x="193.40" y="693.33" text-anchor="end">2</text><text x="193.40" y="672.20" text-anchor="end">3</text><text x="193.40" y="651.07" text-anchor="end">4</text><text x="193.40" y="629.93" text-anchor="end">5</text><text x="193.40" y="608.80" text-anchor="end">6</text><text x="193.40" y="587.67" text-anchor="end">7</text><text x="193.40" y="566.53" text-anchor="end">8</text><text x="193.40" y="545.40" text-anchor="end">9</text></g>
<text x="196.30" y="541.50" font-family='"Liberation Sans", sans-serif' font-size="5.4" fill="#262626" stroke="#262626" stroke-width="0.12">&#215; 10<tspan font-size="3.8" dy="-2.2">4</tspan></text>
<text x="340.60" y="538.80" text-anchor="middle" font-family='"Liberation Sans", sans-serif' font-size="10.3" font-weight="bold" fill="#000"><tspan font-family='"Liberation Serif", serif' font-style="italic" font-weight="normal" font-size="11">&#977;</tspan><tspan dx="0.8">=0.90</tspan></text>
<text x="340.60" y="754.10" text-anchor="middle" font-family='"Liberation Sans", sans-serif' font-size="10.5" fill="#111" stroke="#111" stroke-width="0.25">Time in Days</text>
<text transform="translate(183.00,639.40) rotate(-90)" text-anchor="middle" font-family='"Liberation Sans", sans-serif' font-size="10.4" fill="#111" stroke="#111" stroke-width="0.25">Infected non-human class, I<tspan font-size="7.49" dy="4.37">r</tspan></text>
<rect x="365.40" y="684.60" width="110.90" height="44.50" fill="#fff" stroke="#6a6a6a" stroke-width="1"/>
<line x1="368.10" y1="691.00" x2="384.90" y2="691.00" stroke="#0000ff" stroke-width="1.45"/>
<text x="385.70" y="693.09" font-family='"Liberation Sans", sans-serif' font-size="5.8" fill="#262626" stroke="#262626" stroke-width="0.12">Baseline values of <tspan font-family='"Liberation Serif", serif' font-style="italic" font-size="6.96">&#946;</tspan><tspan font-size="4.06" dy="2.90" dx="0.3">1</tspan><tspan dy="-2.90" dx="0.3">, </tspan><tspan font-family='"Liberation Serif", serif' font-style="italic" font-size="6.96">&#946;</tspan><tspan font-size="4.06" dy="2.90" dx="0.3">2</tspan><tspan dy="-2.90" dx="0.3">, </tspan><tspan font-family='"Liberation Serif", serif' font-style="italic" font-size="6.96">&#946;</tspan><tspan font-size="4.06" dy="2.90" dx="0.3">3</tspan></text>
<line x1="368.10" y1="700.30" x2="384.90" y2="700.30" stroke="#ff0000" stroke-width="1.45"/>
<text x="385.70" y="702.39" font-family='"Liberation Sans", sans-serif' font-size="5.8" fill="#262626" stroke="#262626" stroke-width="0.12">with 10% increase in contact rates</text>
<line x1="368.10" y1="708.30" x2="384.90" y2="708.30" stroke="#edb120" stroke-width="1.45"/>
<text x="385.70" y="710.39" font-family='"Liberation Sans", sans-serif' font-size="5.8" fill="#262626" stroke="#262626" stroke-width="0.12">with 20% increase in contact rates</text>
<line x1="368.10" y1="716.10" x2="384.90" y2="716.10" stroke="#000000" stroke-width="1.45"/>
<text x="385.70" y="718.19" font-family='"Liberation Sans", sans-serif' font-size="5.8" fill="#262626" stroke="#262626" stroke-width="0.12">with 40% increase in contact rates</text>
<line x1="368.10" y1="724.50" x2="384.90" y2="724.50" stroke="#77ac30" stroke-width="1.45"/>
<text x="385.70" y="726.59" font-family='"Liberation Sans", sans-serif' font-size="5.8" fill="#262626" stroke="#262626" stroke-width="0.12">with 50% increase in contact rates</text>
<text x="335.40" y="772.00" text-anchor="middle" font-family='"Liberation Serif", serif' font-size="15" fill="#111">(e)</text>
</svg></body></html>
